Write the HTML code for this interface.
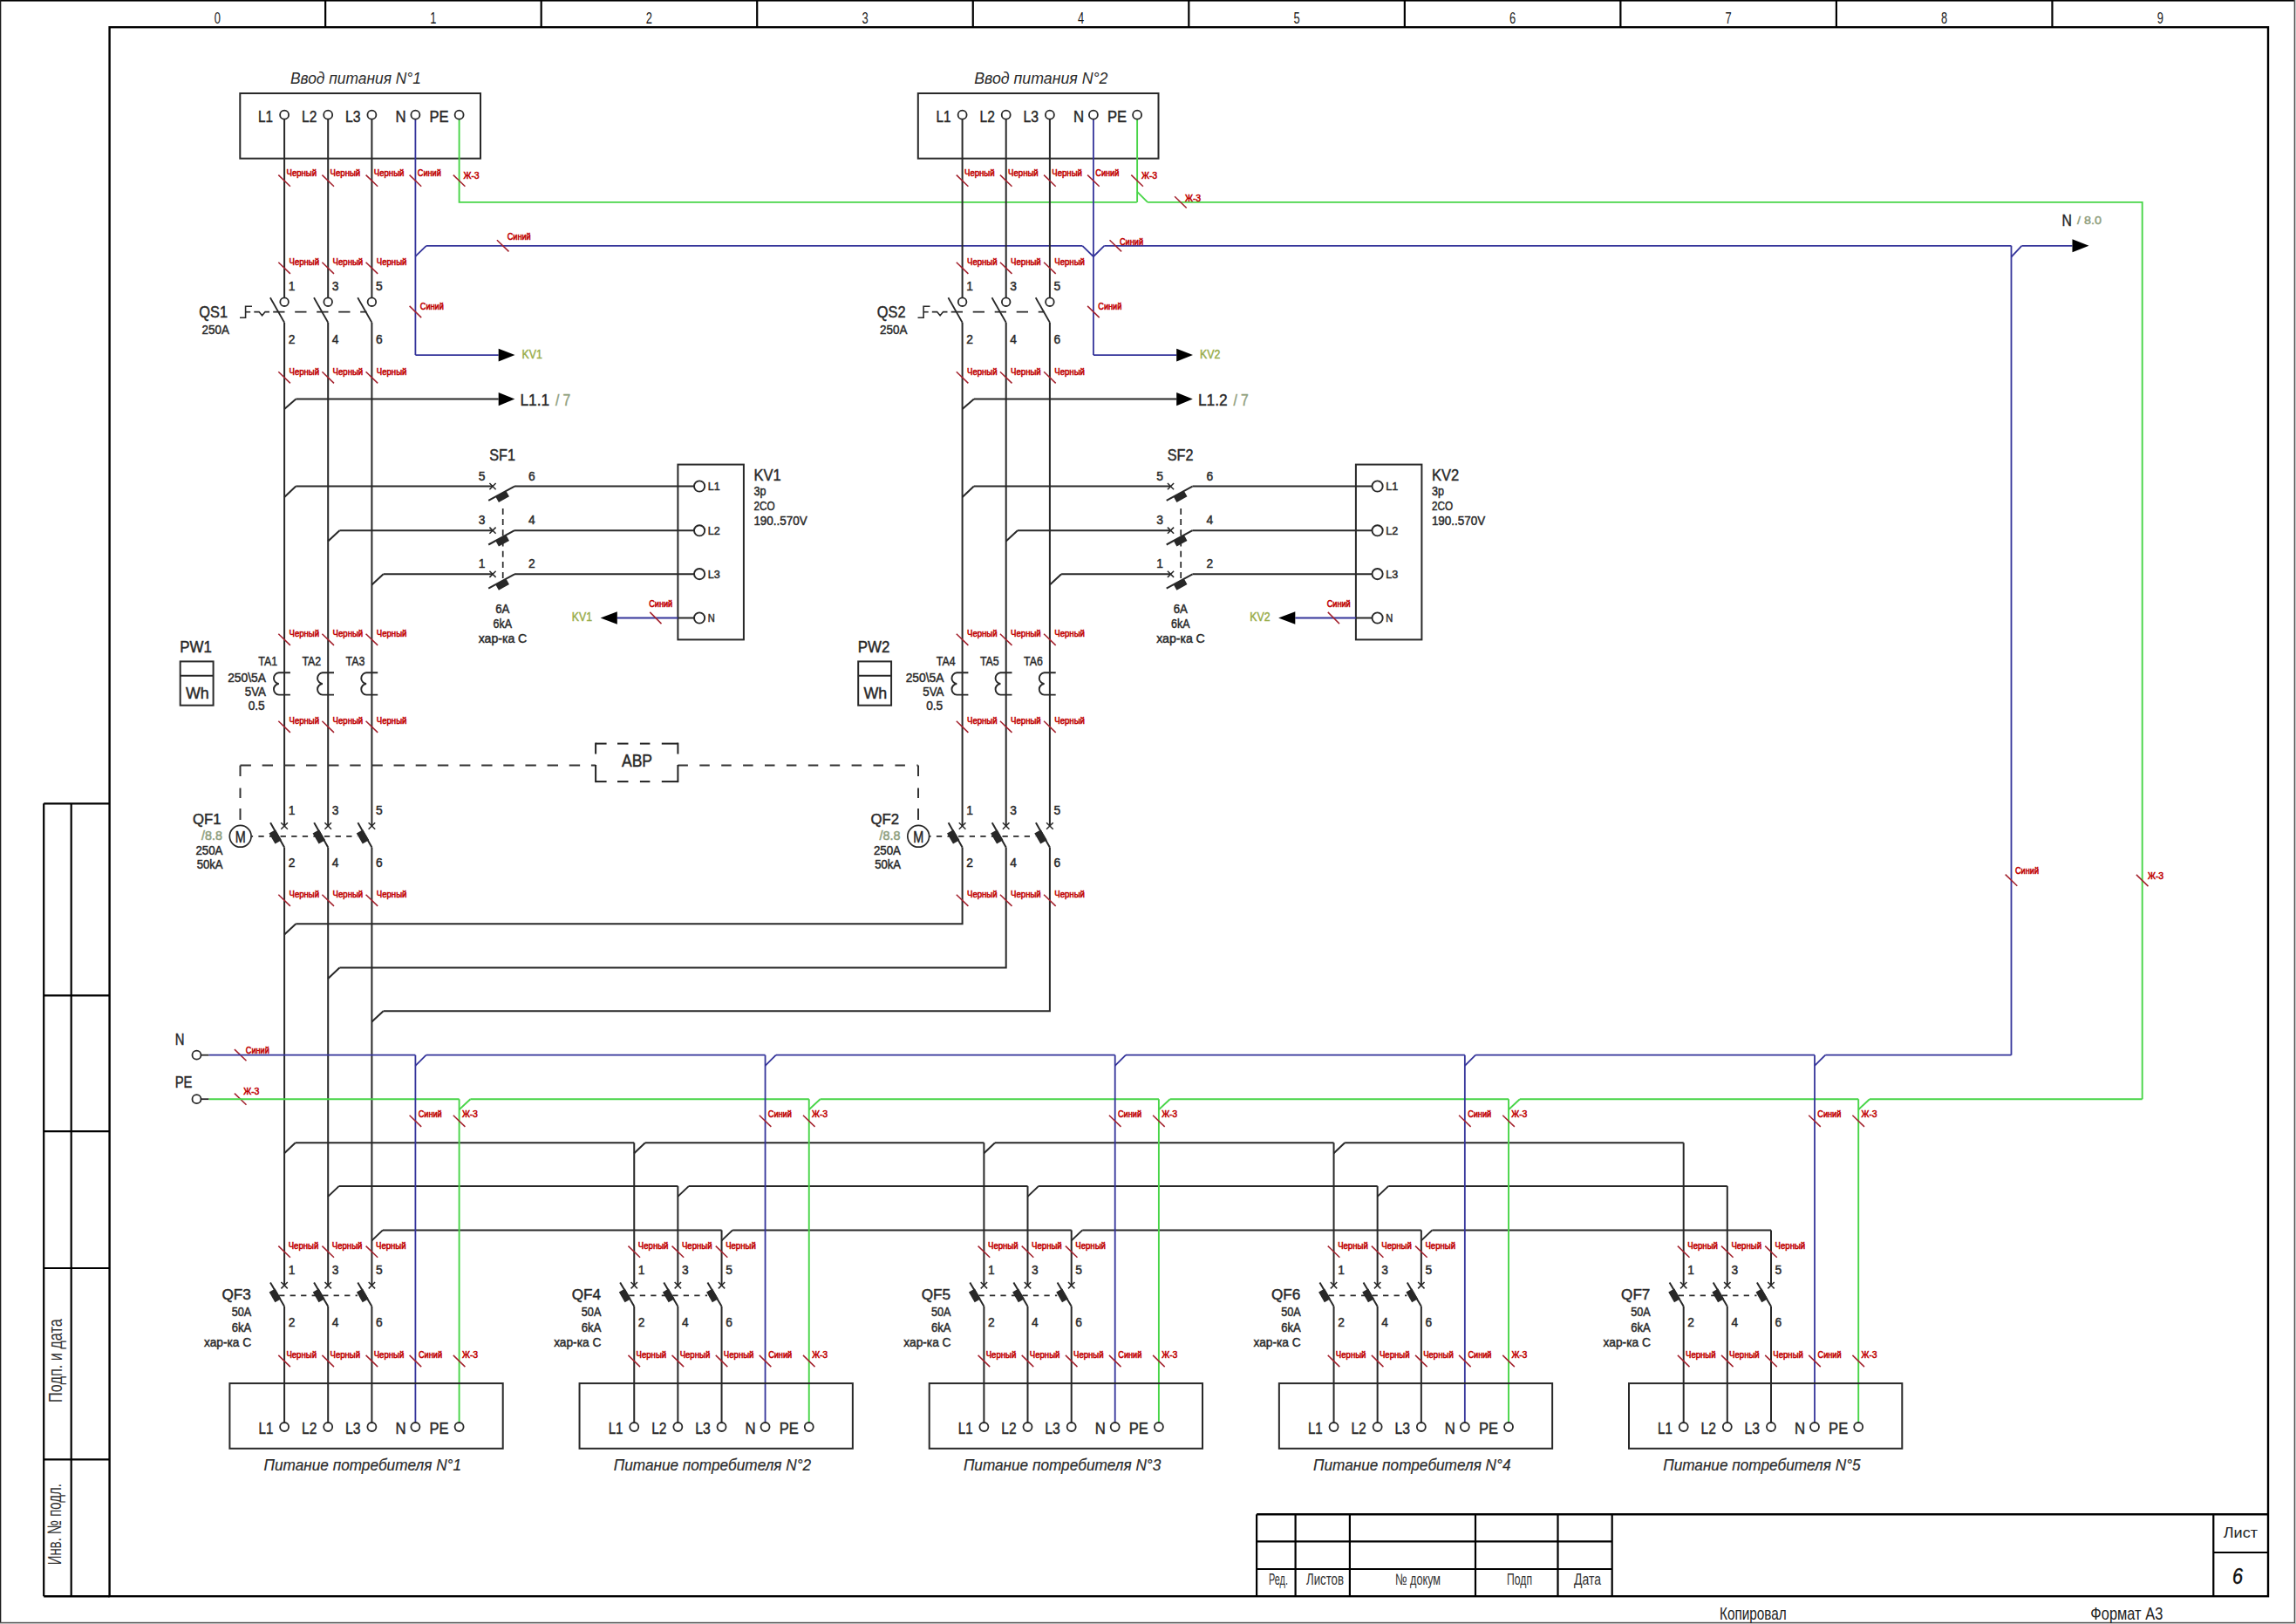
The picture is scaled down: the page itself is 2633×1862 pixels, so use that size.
<!DOCTYPE html>
<html><head><meta charset="utf-8"><title>Схема</title>
<style>
html,body{margin:0;padding:0;background:#fff;}
body{width:2633px;height:1862px;overflow:hidden;}
svg{display:block;font-family:"Liberation Sans", sans-serif;}
text{stroke:currentColor;stroke-width:0.45px;}
</style></head>
<body>
<svg width="2633" height="1862" viewBox="0 0 2633 1862">
<rect x="0" y="0" width="2633" height="1862" fill="#fff"/>
<rect x="2632" y="0" width="1" height="1862" fill="#c8c8c8"/>
<rect x="0" y="1861" width="2633" height="1" fill="#c8c8c8"/>
<rect x="0" y="0" width="2632" height="1.6" fill="#000"/>
<rect x="0" y="0" width="1.3" height="1861" fill="#1a1a1a"/>
<rect x="2630.7" y="0" width="1.3" height="1861" fill="#555"/>
<rect x="0" y="1859.8" width="2632" height="1.3" fill="#555"/>
<rect x="125.6" y="31.2" width="2475.4" height="1799" fill="none" stroke="#000" stroke-width="2.4"/>
<line x1="373.14" y1="0" x2="373.14" y2="31.2" stroke="#000" stroke-width="2.2"/>
<line x1="620.68" y1="0" x2="620.68" y2="31.2" stroke="#000" stroke-width="2.2"/>
<line x1="868.22" y1="0" x2="868.22" y2="31.2" stroke="#000" stroke-width="2.2"/>
<line x1="1115.76" y1="0" x2="1115.76" y2="31.2" stroke="#000" stroke-width="2.2"/>
<line x1="1363.3" y1="0" x2="1363.3" y2="31.2" stroke="#000" stroke-width="2.2"/>
<line x1="1610.84" y1="0" x2="1610.84" y2="31.2" stroke="#000" stroke-width="2.2"/>
<line x1="1858.38" y1="0" x2="1858.38" y2="31.2" stroke="#000" stroke-width="2.2"/>
<line x1="2105.92" y1="0" x2="2105.92" y2="31.2" stroke="#000" stroke-width="2.2"/>
<line x1="2353.46" y1="0" x2="2353.46" y2="31.2" stroke="#000" stroke-width="2.2"/>
<text x="249.37" y="27.2" font-size="19" fill="#1a1a1a" color="#1a1a1a" text-anchor="middle" textLength="7.2" lengthAdjust="spacingAndGlyphs" style="stroke-width:0">0</text>
<text x="496.91" y="27.2" font-size="19" fill="#1a1a1a" color="#1a1a1a" text-anchor="middle" textLength="7.2" lengthAdjust="spacingAndGlyphs" style="stroke-width:0">1</text>
<text x="744.45" y="27.2" font-size="19" fill="#1a1a1a" color="#1a1a1a" text-anchor="middle" textLength="7.2" lengthAdjust="spacingAndGlyphs" style="stroke-width:0">2</text>
<text x="991.99" y="27.2" font-size="19" fill="#1a1a1a" color="#1a1a1a" text-anchor="middle" textLength="7.2" lengthAdjust="spacingAndGlyphs" style="stroke-width:0">3</text>
<text x="1239.53" y="27.2" font-size="19" fill="#1a1a1a" color="#1a1a1a" text-anchor="middle" textLength="7.2" lengthAdjust="spacingAndGlyphs" style="stroke-width:0">4</text>
<text x="1487.07" y="27.2" font-size="19" fill="#1a1a1a" color="#1a1a1a" text-anchor="middle" textLength="7.2" lengthAdjust="spacingAndGlyphs" style="stroke-width:0">5</text>
<text x="1734.61" y="27.2" font-size="19" fill="#1a1a1a" color="#1a1a1a" text-anchor="middle" textLength="7.2" lengthAdjust="spacingAndGlyphs" style="stroke-width:0">6</text>
<text x="1982.15" y="27.2" font-size="19" fill="#1a1a1a" color="#1a1a1a" text-anchor="middle" textLength="7.2" lengthAdjust="spacingAndGlyphs" style="stroke-width:0">7</text>
<text x="2229.69" y="27.2" font-size="19" fill="#1a1a1a" color="#1a1a1a" text-anchor="middle" textLength="7.2" lengthAdjust="spacingAndGlyphs" style="stroke-width:0">8</text>
<text x="2477.23" y="27.2" font-size="19" fill="#1a1a1a" color="#1a1a1a" text-anchor="middle" textLength="7.2" lengthAdjust="spacingAndGlyphs" style="stroke-width:0">9</text>
<line x1="50.2" y1="921.3" x2="125.6" y2="921.3" stroke="#000" stroke-width="2.2"/>
<line x1="50.2" y1="1141.3" x2="125.6" y2="1141.3" stroke="#000" stroke-width="2.2"/>
<line x1="50.2" y1="1297.2" x2="125.6" y2="1297.2" stroke="#000" stroke-width="2.2"/>
<line x1="50.2" y1="1454" x2="125.6" y2="1454" stroke="#000" stroke-width="2.2"/>
<line x1="50.2" y1="1673.3" x2="125.6" y2="1673.3" stroke="#000" stroke-width="2.2"/>
<line x1="50.2" y1="921.3" x2="50.2" y2="1830.2" stroke="#000" stroke-width="2.2"/>
<line x1="81.7" y1="921.3" x2="81.7" y2="1830.2" stroke="#000" stroke-width="2.2"/>
<line x1="50.2" y1="1830.2" x2="125.6" y2="1830.2" stroke="#000" stroke-width="2.4"/>
<text transform="translate(70.5,1560.05) rotate(-90)" font-size="22.5" fill="#333" style="stroke-width:0" text-anchor="middle" textLength="95.7" lengthAdjust="spacingAndGlyphs">Подп. и дата</text>
<text transform="translate(70.2,1747.7) rotate(-90)" font-size="22.5" fill="#333" style="stroke-width:0" text-anchor="middle" textLength="93" lengthAdjust="spacingAndGlyphs">Инв. № подл.</text>
<line x1="1441.1" y1="1736.3" x2="2601" y2="1736.3" stroke="#000" stroke-width="2.4"/>
<line x1="1441.1" y1="1736.3" x2="1441.1" y2="1830.2" stroke="#000" stroke-width="2.2"/>
<line x1="1485.6" y1="1736.3" x2="1485.6" y2="1830.2" stroke="#000" stroke-width="2.2"/>
<line x1="1547.9" y1="1736.3" x2="1547.9" y2="1830.2" stroke="#000" stroke-width="2.2"/>
<line x1="1692" y1="1736.3" x2="1692" y2="1830.2" stroke="#000" stroke-width="2.2"/>
<line x1="1786.5" y1="1736.3" x2="1786.5" y2="1830.2" stroke="#000" stroke-width="2.2"/>
<line x1="1848.7" y1="1736.3" x2="1848.7" y2="1830.2" stroke="#000" stroke-width="2.2"/>
<line x1="2538.3" y1="1736.3" x2="2538.3" y2="1830.2" stroke="#000" stroke-width="2.2"/>
<line x1="1441.1" y1="1767.3" x2="1848.7" y2="1767.3" stroke="#000" stroke-width="2.2"/>
<line x1="1441.1" y1="1799" x2="1848.7" y2="1799" stroke="#000" stroke-width="2.2"/>
<line x1="2538.3" y1="1780" x2="2601" y2="1780" stroke="#000" stroke-width="2.2"/>
<text x="1455" y="1817.4" font-size="18" fill="#333" color="#333" textLength="22" lengthAdjust="spacingAndGlyphs" style="stroke-width:0">Ред.</text>
<text x="1498" y="1817.4" font-size="18" fill="#333" color="#333" textLength="43" lengthAdjust="spacingAndGlyphs" style="stroke-width:0">Листов</text>
<text x="1600" y="1817.4" font-size="18" fill="#333" color="#333" textLength="52" lengthAdjust="spacingAndGlyphs" style="stroke-width:0">№ докум</text>
<text x="1728" y="1817.4" font-size="18" fill="#333" color="#333" textLength="29" lengthAdjust="spacingAndGlyphs" style="stroke-width:0">Подп</text>
<text x="1805" y="1817.4" font-size="18" fill="#333" color="#333" textLength="31" lengthAdjust="spacingAndGlyphs" style="stroke-width:0">Дата</text>
<text x="2549.7" y="1762.7" font-size="17" fill="#222" color="#222" textLength="39.3" lengthAdjust="spacingAndGlyphs" style="stroke-width:0">Лист</text>
<text x="2560" y="1815.5" font-size="25" fill="#111" color="#111" textLength="12" lengthAdjust="spacingAndGlyphs" font-style="italic">6</text>
<text x="1972" y="1856.6" font-size="20.4" fill="#222" color="#222" textLength="76.8" lengthAdjust="spacingAndGlyphs" style="stroke-width:0">Копировал</text>
<text x="2397.3" y="1856.6" font-size="20.4" fill="#222" color="#222" textLength="83" lengthAdjust="spacingAndGlyphs" style="stroke-width:0">Формат А3</text>
<line x1="326.1" y1="369.7" x2="326.1" y2="947" stroke="#282828" stroke-width="2"/>
<line x1="326.1" y1="971.4" x2="326.1" y2="1473.7" stroke="#282828" stroke-width="2"/>
<line x1="376.2" y1="369.7" x2="376.2" y2="947" stroke="#282828" stroke-width="2"/>
<line x1="376.2" y1="971.4" x2="376.2" y2="1473.7" stroke="#282828" stroke-width="2"/>
<line x1="426.4" y1="369.7" x2="426.4" y2="947" stroke="#282828" stroke-width="2"/>
<line x1="426.4" y1="971.4" x2="426.4" y2="1473.7" stroke="#282828" stroke-width="2"/>
<line x1="1103.6" y1="369.7" x2="1103.6" y2="947" stroke="#282828" stroke-width="2"/>
<polyline points="1103.6,971.4 1103.6,1059.2 339.3,1059.2" fill="none" stroke="#282828" stroke-width="2"/>
<line x1="1153.7" y1="369.7" x2="1153.7" y2="947" stroke="#282828" stroke-width="2"/>
<polyline points="1153.7,971.4 1153.7,1109.6 389.4,1109.6" fill="none" stroke="#282828" stroke-width="2"/>
<line x1="1203.9" y1="369.7" x2="1203.9" y2="947" stroke="#282828" stroke-width="2"/>
<polyline points="1203.9,971.4 1203.9,1159.3 439.6,1159.3" fill="none" stroke="#282828" stroke-width="2"/>
<line x1="326.1" y1="1071.5" x2="339.3" y2="1059.2" stroke="#282828" stroke-width="2"/>
<line x1="376.2" y1="1121.9" x2="389.4" y2="1109.6" stroke="#282828" stroke-width="2"/>
<line x1="426.4" y1="1171.6" x2="439.6" y2="1159.3" stroke="#282828" stroke-width="2"/>
<line x1="476.4" y1="293.9" x2="488.8" y2="281.8" stroke="#34349a" stroke-width="1.8"/>
<line x1="488.8" y1="281.8" x2="1241.3" y2="281.8" stroke="#34349a" stroke-width="1.8"/>
<polyline points="1241.3,281.8 1253.9,294.2 1266.3,281.8" fill="none" stroke="#34349a" stroke-width="1.8"/>
<line x1="1266.3" y1="281.8" x2="2306.5" y2="281.8" stroke="#34349a" stroke-width="1.8"/>
<line x1="2306.5" y1="281.8" x2="2306.5" y2="1209.7" stroke="#34349a" stroke-width="1.8"/>
<line x1="2306.5" y1="294.6" x2="2318.4" y2="281.8" stroke="#34349a" stroke-width="1.8"/>
<line x1="2318.4" y1="281.8" x2="2376.5" y2="281.8" stroke="#34349a" stroke-width="1.8"/>
<path d="M2376.5,274.3 L2395.5,281.8 L2376.5,289.3 Z" fill="#000" stroke="none"/>
<text x="2364.6" y="258.8" font-size="18.5" fill="#282828" color="#282828" textLength="11.4" lengthAdjust="spacingAndGlyphs">N</text>
<text x="2382" y="256.5" font-size="13.5" fill="#8e9e7c" color="#8e9e7c" textLength="28" lengthAdjust="spacingAndGlyphs">/ 8.0</text>
<line x1="569.9" y1="275.2" x2="583.5" y2="288.4" stroke="#a3202c" stroke-width="1.5"/>
<text x="581.7" y="274.8" font-size="10.5" fill="#c00000" color="#c00000" textLength="27" lengthAdjust="spacingAndGlyphs" style="stroke-width:0.55px">Синий</text>
<line x1="1272.5" y1="275.2" x2="1286.1" y2="288.4" stroke="#a3202c" stroke-width="1.5"/>
<text x="1284" y="281" font-size="10.5" fill="#c00000" color="#c00000" textLength="27" lengthAdjust="spacingAndGlyphs" style="stroke-width:0.55px">Синий</text>
<line x1="2299.7" y1="1002.6" x2="2313.3" y2="1015.8" stroke="#a3202c" stroke-width="1.5"/>
<text x="2311" y="1001.9" font-size="10.5" fill="#c00000" color="#c00000" textLength="27" lengthAdjust="spacingAndGlyphs" style="stroke-width:0.55px">Синий</text>
<polyline points="1316.1,231.9 2456.7,231.9 2456.7,1260.2" fill="none" stroke="#48d548" stroke-width="1.9"/>
<line x1="1347.1" y1="225.3" x2="1360.7" y2="238.5" stroke="#a3202c" stroke-width="1.5"/>
<text x="1359" y="231" font-size="10.5" fill="#c00000" color="#c00000" textLength="18" lengthAdjust="spacingAndGlyphs" style="stroke-width:0.55px">Ж-З</text>
<line x1="2449.9" y1="1002.9" x2="2463.5" y2="1016.1" stroke="#a3202c" stroke-width="1.5"/>
<text x="2463" y="1008.2" font-size="10.5" fill="#c00000" color="#c00000" textLength="18" lengthAdjust="spacingAndGlyphs" style="stroke-width:0.55px">Ж-З</text>
<text x="332.9" y="95.8" font-size="17.5" fill="#2a2a2a" color="#2a2a2a" textLength="150.1" lengthAdjust="spacingAndGlyphs" font-style="italic" style="stroke-width:0">Ввод питания N°1</text>
<rect x="275.3" y="107" width="275.7" height="74.7" fill="none" stroke="#282828" stroke-width="2"/>
<text x="296" y="139.5" font-size="18.7" fill="#282828" color="#282828" textLength="17" lengthAdjust="spacingAndGlyphs">L1</text>
<text x="346" y="139.5" font-size="18.7" fill="#282828" color="#282828" textLength="17.3" lengthAdjust="spacingAndGlyphs">L2</text>
<text x="396" y="139.5" font-size="18.7" fill="#282828" color="#282828" textLength="17.5" lengthAdjust="spacingAndGlyphs">L3</text>
<text x="453.4" y="139.5" font-size="18.7" fill="#282828" color="#282828" textLength="12.1" lengthAdjust="spacingAndGlyphs">N</text>
<text x="492.5" y="139.5" font-size="18.7" fill="#282828" color="#282828" textLength="22.1" lengthAdjust="spacingAndGlyphs">PE</text>
<line x1="326.1" y1="131.7" x2="326.1" y2="341.4" stroke="#282828" stroke-width="2"/>
<line x1="376.2" y1="131.7" x2="376.2" y2="341.4" stroke="#282828" stroke-width="2"/>
<line x1="426.4" y1="131.7" x2="426.4" y2="341.4" stroke="#282828" stroke-width="2"/>
<line x1="476.4" y1="131.7" x2="476.4" y2="407.1" stroke="#34349a" stroke-width="1.8"/>
<polyline points="476.4,407.1 571.7,407.1" fill="none" stroke="#34349a" stroke-width="1.8"/>
<path d="M571.7,399.8 L590.5,407.1 L571.7,414.4 Z" fill="#000" stroke="none"/>
<text x="598.5" y="410.9" font-size="14.2" fill="#98ac48" color="#98ac48" textLength="23.4" lengthAdjust="spacingAndGlyphs">KV1</text>
<polyline points="526.6,131.7 526.6,231.9 1303.8,231.9" fill="none" stroke="#48d548" stroke-width="1.9"/>
<circle cx="326.1" cy="131.7" r="5" fill="#fff" stroke="#282828" stroke-width="1.8"/>
<circle cx="376.2" cy="131.7" r="5" fill="#fff" stroke="#282828" stroke-width="1.8"/>
<circle cx="426.4" cy="131.7" r="5" fill="#fff" stroke="#282828" stroke-width="1.8"/>
<circle cx="476.4" cy="131.7" r="5" fill="#fff" stroke="#282828" stroke-width="1.8"/>
<circle cx="526.6" cy="131.7" r="5" fill="#fff" stroke="#282828" stroke-width="1.8"/>
<line x1="319.3" y1="200.6" x2="332.9" y2="213.8" stroke="#a3202c" stroke-width="1.5"/>
<text x="328.5" y="202.3" font-size="10.5" fill="#c00000" color="#c00000" textLength="34.6" lengthAdjust="spacingAndGlyphs" style="stroke-width:0.55px">Черный</text>
<line x1="369.4" y1="200.6" x2="383" y2="213.8" stroke="#a3202c" stroke-width="1.5"/>
<text x="378.6" y="202.3" font-size="10.5" fill="#c00000" color="#c00000" textLength="34.6" lengthAdjust="spacingAndGlyphs" style="stroke-width:0.55px">Черный</text>
<line x1="419.6" y1="200.6" x2="433.2" y2="213.8" stroke="#a3202c" stroke-width="1.5"/>
<text x="428.8" y="202.3" font-size="10.5" fill="#c00000" color="#c00000" textLength="34.6" lengthAdjust="spacingAndGlyphs" style="stroke-width:0.55px">Черный</text>
<line x1="469.6" y1="200.6" x2="483.2" y2="213.8" stroke="#a3202c" stroke-width="1.5"/>
<text x="478.8" y="202.3" font-size="10.5" fill="#c00000" color="#c00000" textLength="27" lengthAdjust="spacingAndGlyphs" style="stroke-width:0.55px">Синий</text>
<line x1="519.8" y1="200.6" x2="533.4" y2="213.8" stroke="#a3202c" stroke-width="1.5"/>
<text x="531.6" y="205.2" font-size="10.5" fill="#c00000" color="#c00000" textLength="18" lengthAdjust="spacingAndGlyphs" style="stroke-width:0.55px">Ж-З</text>
<line x1="319.3" y1="300.7" x2="332.9" y2="313.9" stroke="#a3202c" stroke-width="1.5"/>
<text x="331.5" y="304.3" font-size="10.5" fill="#c00000" color="#c00000" textLength="34.6" lengthAdjust="spacingAndGlyphs" style="stroke-width:0.55px">Черный</text>
<line x1="369.4" y1="300.7" x2="383" y2="313.9" stroke="#a3202c" stroke-width="1.5"/>
<text x="381.6" y="304.3" font-size="10.5" fill="#c00000" color="#c00000" textLength="34.6" lengthAdjust="spacingAndGlyphs" style="stroke-width:0.55px">Черный</text>
<line x1="419.6" y1="300.7" x2="433.2" y2="313.9" stroke="#a3202c" stroke-width="1.5"/>
<text x="431.8" y="304.3" font-size="10.5" fill="#c00000" color="#c00000" textLength="34.6" lengthAdjust="spacingAndGlyphs" style="stroke-width:0.55px">Черный</text>
<line x1="469.6" y1="350.9" x2="483.2" y2="364.1" stroke="#a3202c" stroke-width="1.5"/>
<text x="481.8" y="354.5" font-size="10.5" fill="#c00000" color="#c00000" textLength="27" lengthAdjust="spacingAndGlyphs" style="stroke-width:0.55px">Синий</text>
<circle cx="326.1" cy="346.2" r="4.8" fill="#fff" stroke="#282828" stroke-width="1.8"/>
<line x1="309.9" y1="341.2" x2="326.1" y2="369.7" stroke="#282828" stroke-width="1.8"/>
<text x="330.7" y="332.7" font-size="13.8" fill="#282828" color="#282828">1</text>
<text x="330.7" y="393.6" font-size="13.8" fill="#282828" color="#282828">2</text>
<circle cx="376.2" cy="346.2" r="4.8" fill="#fff" stroke="#282828" stroke-width="1.8"/>
<line x1="360" y1="341.2" x2="376.2" y2="369.7" stroke="#282828" stroke-width="1.8"/>
<text x="380.8" y="332.7" font-size="13.8" fill="#282828" color="#282828">3</text>
<text x="380.8" y="393.6" font-size="13.8" fill="#282828" color="#282828">4</text>
<circle cx="426.4" cy="346.2" r="4.8" fill="#fff" stroke="#282828" stroke-width="1.8"/>
<line x1="410.2" y1="341.2" x2="426.4" y2="369.7" stroke="#282828" stroke-width="1.8"/>
<text x="431" y="332.7" font-size="13.8" fill="#282828" color="#282828">5</text>
<text x="431" y="393.6" font-size="13.8" fill="#282828" color="#282828">6</text>
<line x1="313.2" y1="357.7" x2="420.5" y2="357.7" stroke="#282828" stroke-width="1.8" stroke-dasharray="13.3 11.7"/>
<polyline points="275,364.3 281.6,364.3 281.6,351.3 289,351.3" fill="none" stroke="#282828" stroke-width="1.6"/>
<line x1="281.6" y1="357.7" x2="287.2" y2="357.7" stroke="#282828" stroke-width="1.6"/>
<polyline points="291.3,357.6 297.1,357.6 300.6,361.8 304.1,357.6 309,357.6" fill="none" stroke="#282828" stroke-width="1.6"/>
<text x="228.3" y="364.2" font-size="17.5" fill="#282828" color="#282828" textLength="32.7" lengthAdjust="spacingAndGlyphs">QS1</text>
<text x="231.6" y="382.8" font-size="15" fill="#282828" color="#282828" textLength="31.4" lengthAdjust="spacingAndGlyphs">250A</text>
<line x1="319.3" y1="426.2" x2="332.9" y2="439.4" stroke="#a3202c" stroke-width="1.5"/>
<text x="331.5" y="429.8" font-size="10.5" fill="#c00000" color="#c00000" textLength="34.6" lengthAdjust="spacingAndGlyphs" style="stroke-width:0.55px">Черный</text>
<line x1="369.4" y1="426.2" x2="383" y2="439.4" stroke="#a3202c" stroke-width="1.5"/>
<text x="381.6" y="429.8" font-size="10.5" fill="#c00000" color="#c00000" textLength="34.6" lengthAdjust="spacingAndGlyphs" style="stroke-width:0.55px">Черный</text>
<line x1="419.6" y1="426.2" x2="433.2" y2="439.4" stroke="#a3202c" stroke-width="1.5"/>
<text x="431.8" y="429.8" font-size="10.5" fill="#c00000" color="#c00000" textLength="34.6" lengthAdjust="spacingAndGlyphs" style="stroke-width:0.55px">Черный</text>
<line x1="326.1" y1="469" x2="339.4" y2="457.6" stroke="#282828" stroke-width="2"/>
<line x1="339.4" y1="457.6" x2="571.7" y2="457.6" stroke="#282828" stroke-width="2"/>
<path d="M571.7,449.9 L590.3,457.6 L571.7,465.3 Z" fill="#000" stroke="none"/>
<text x="596.4" y="464.9" font-size="19" fill="#282828" color="#282828" textLength="33.8" lengthAdjust="spacingAndGlyphs">L1.1</text>
<text x="636.9" y="464.9" font-size="18" fill="#8e9e7c" color="#8e9e7c" textLength="17.4" lengthAdjust="spacingAndGlyphs">/ 7</text>
<line x1="326.1" y1="569.9" x2="339.3" y2="557.6" stroke="#282828" stroke-width="2"/>
<line x1="339.3" y1="557.6" x2="565" y2="557.6" stroke="#282828" stroke-width="2"/>
<line x1="561.4" y1="554" x2="568.6" y2="561.2" stroke="#282828" stroke-width="1.5"/>
<line x1="561.4" y1="561.2" x2="568.6" y2="554" stroke="#282828" stroke-width="1.5"/>
<line x1="560.2" y1="573.9" x2="590" y2="557.6" stroke="#282828" stroke-width="2"/>
<line x1="590" y1="557.6" x2="796" y2="557.6" stroke="#282828" stroke-width="2"/>
<rect x="569.3" y="565.9" width="13.8" height="7.2" fill="#282828" transform="rotate(-29.2 576.2 569.5)"/>
<text x="548.7" y="550.6" font-size="13.8" fill="#282828" color="#282828">5</text>
<text x="605.9" y="550.6" font-size="13.8" fill="#282828" color="#282828">6</text>
<line x1="376.2" y1="620.5" x2="389.4" y2="608.2" stroke="#282828" stroke-width="2"/>
<line x1="389.4" y1="608.2" x2="565" y2="608.2" stroke="#282828" stroke-width="2"/>
<line x1="561.4" y1="604.6" x2="568.6" y2="611.8" stroke="#282828" stroke-width="1.5"/>
<line x1="561.4" y1="611.8" x2="568.6" y2="604.6" stroke="#282828" stroke-width="1.5"/>
<line x1="560.2" y1="624.5" x2="590" y2="608.2" stroke="#282828" stroke-width="2"/>
<line x1="590" y1="608.2" x2="796" y2="608.2" stroke="#282828" stroke-width="2"/>
<rect x="569.3" y="616.5" width="13.8" height="7.2" fill="#282828" transform="rotate(-29.2 576.2 620.1)"/>
<text x="548.7" y="601.2" font-size="13.8" fill="#282828" color="#282828">3</text>
<text x="605.9" y="601.2" font-size="13.8" fill="#282828" color="#282828">4</text>
<line x1="426.4" y1="670.6" x2="439.6" y2="658.3" stroke="#282828" stroke-width="2"/>
<line x1="439.6" y1="658.3" x2="565" y2="658.3" stroke="#282828" stroke-width="2"/>
<line x1="561.4" y1="654.7" x2="568.6" y2="661.9" stroke="#282828" stroke-width="1.5"/>
<line x1="561.4" y1="661.9" x2="568.6" y2="654.7" stroke="#282828" stroke-width="1.5"/>
<line x1="560.2" y1="674.6" x2="590" y2="658.3" stroke="#282828" stroke-width="2"/>
<line x1="590" y1="658.3" x2="796" y2="658.3" stroke="#282828" stroke-width="2"/>
<rect x="569.3" y="666.6" width="13.8" height="7.2" fill="#282828" transform="rotate(-29.2 576.2 670.2)"/>
<text x="548.7" y="651.3" font-size="13.8" fill="#282828" color="#282828">1</text>
<text x="605.9" y="651.3" font-size="13.8" fill="#282828" color="#282828">2</text>
<line x1="576.7" y1="582.9" x2="576.7" y2="668" stroke="#282828" stroke-width="1.7" stroke-dasharray="7 5.2"/>
<text x="561.2" y="527.8" font-size="18.7" fill="#282828" color="#282828" textLength="29.7" lengthAdjust="spacingAndGlyphs">SF1</text>
<text x="576.3" y="703.1" font-size="13.8" fill="#282828" color="#282828" text-anchor="middle" textLength="16.2" lengthAdjust="spacingAndGlyphs">6A</text>
<text x="576.3" y="719.5" font-size="13.8" fill="#282828" color="#282828" text-anchor="middle" textLength="21.4" lengthAdjust="spacingAndGlyphs">6kA</text>
<text x="576.5" y="737.4" font-size="13.8" fill="#282828" color="#282828" text-anchor="middle" textLength="55.6" lengthAdjust="spacingAndGlyphs">хар-ка С</text>
<rect x="777.4" y="532.6" width="75.5" height="200.8" fill="none" stroke="#282828" stroke-width="2"/>
<line x1="777.4" y1="708.5" x2="796" y2="708.5" stroke="#282828" stroke-width="2"/>
<line x1="707.8" y1="708.5" x2="777.4" y2="708.5" stroke="#34349a" stroke-width="1.8"/>
<path d="M707.8,701.2 L688.6,708.5 L707.8,715.8 Z" fill="#000" stroke="none"/>
<text x="655.7" y="712.4" font-size="13.8" fill="#98ac48" color="#98ac48" textLength="23.3" lengthAdjust="spacingAndGlyphs">KV1</text>
<line x1="745.3" y1="701.9" x2="758.5" y2="715.1" stroke="#a3202c" stroke-width="1.5"/>
<text x="744.2" y="695.6" font-size="10.5" fill="#c00000" color="#c00000" textLength="27" lengthAdjust="spacingAndGlyphs" style="stroke-width:0.55px">Синий</text>
<circle cx="802.1" cy="557.5" r="6.1" fill="#fff" stroke="#282828" stroke-width="1.9"/>
<text x="811.7" y="562.4" font-size="12.5" fill="#282828" color="#282828" textLength="14" lengthAdjust="spacingAndGlyphs">L1</text>
<circle cx="802.1" cy="608.3" r="6.1" fill="#fff" stroke="#282828" stroke-width="1.9"/>
<text x="811.7" y="613.2" font-size="12.5" fill="#282828" color="#282828" textLength="14" lengthAdjust="spacingAndGlyphs">L2</text>
<circle cx="802.1" cy="658.1" r="6.1" fill="#fff" stroke="#282828" stroke-width="1.9"/>
<text x="811.7" y="663" font-size="12.5" fill="#282828" color="#282828" textLength="14" lengthAdjust="spacingAndGlyphs">L3</text>
<circle cx="802.1" cy="708.5" r="6.1" fill="#fff" stroke="#282828" stroke-width="1.9"/>
<text x="811.7" y="713.4" font-size="12.5" fill="#282828" color="#282828" textLength="8" lengthAdjust="spacingAndGlyphs">N</text>
<text x="864.4" y="550.8" font-size="18.7" fill="#282828" color="#282828" textLength="31.2" lengthAdjust="spacingAndGlyphs">KV1</text>
<text x="864.4" y="567.6" font-size="13.8" fill="#282828" color="#282828" textLength="14" lengthAdjust="spacingAndGlyphs">3p</text>
<text x="864.4" y="585.3" font-size="13.8" fill="#282828" color="#282828" textLength="24.2" lengthAdjust="spacingAndGlyphs">2CO</text>
<text x="864.4" y="601.6" font-size="13.8" fill="#282828" color="#282828" textLength="61.3" lengthAdjust="spacingAndGlyphs">190..570V</text>
<line x1="319.3" y1="726.7" x2="332.9" y2="739.9" stroke="#a3202c" stroke-width="1.5"/>
<text x="331.5" y="730.3" font-size="10.5" fill="#c00000" color="#c00000" textLength="34.6" lengthAdjust="spacingAndGlyphs" style="stroke-width:0.55px">Черный</text>
<line x1="369.4" y1="726.7" x2="383" y2="739.9" stroke="#a3202c" stroke-width="1.5"/>
<text x="381.6" y="730.3" font-size="10.5" fill="#c00000" color="#c00000" textLength="34.6" lengthAdjust="spacingAndGlyphs" style="stroke-width:0.55px">Черный</text>
<line x1="419.6" y1="726.7" x2="433.2" y2="739.9" stroke="#a3202c" stroke-width="1.5"/>
<text x="431.8" y="730.3" font-size="10.5" fill="#c00000" color="#c00000" textLength="34.6" lengthAdjust="spacingAndGlyphs" style="stroke-width:0.55px">Черный</text>
<text x="206.3" y="748.3" font-size="17.5" fill="#282828" color="#282828" textLength="36.6" lengthAdjust="spacingAndGlyphs">PW1</text>
<rect x="206.7" y="758.4" width="37.9" height="50.3" fill="none" stroke="#282828" stroke-width="2"/>
<line x1="206.7" y1="774.7" x2="244.6" y2="774.7" stroke="#282828" stroke-width="2"/>
<text x="212.9" y="800.6" font-size="18.5" fill="#282828" color="#282828" textLength="26.8" lengthAdjust="spacingAndGlyphs">Wh</text>
<text x="318.1" y="763.4" font-size="14.5" fill="#282828" color="#282828" text-anchor="end" textLength="21.8" lengthAdjust="spacingAndGlyphs">TA1</text>
<path d="M332.9,771.3 H319.8 A6.4,6.35 0 0 0 319.8,783.95 A6.4,6.35 0 0 0 319.8,796.6 H332.9" fill="none" stroke="#282828" stroke-width="1.9"/>
<text x="368.2" y="763.4" font-size="14.5" fill="#282828" color="#282828" text-anchor="end" textLength="21.8" lengthAdjust="spacingAndGlyphs">TA2</text>
<path d="M383,771.3 H369.9 A6.4,6.35 0 0 0 369.9,783.95 A6.4,6.35 0 0 0 369.9,796.6 H383" fill="none" stroke="#282828" stroke-width="1.9"/>
<text x="418.4" y="763.4" font-size="14.5" fill="#282828" color="#282828" text-anchor="end" textLength="21.8" lengthAdjust="spacingAndGlyphs">TA3</text>
<path d="M433.2,771.3 H420.1 A6.4,6.35 0 0 0 420.1,783.95 A6.4,6.35 0 0 0 420.1,796.6 H433.2" fill="none" stroke="#282828" stroke-width="1.9"/>
<text x="305" y="781.7" font-size="14.2" fill="#282828" color="#282828" text-anchor="end" textLength="43.8" lengthAdjust="spacingAndGlyphs">250\5A</text>
<text x="305" y="798" font-size="14.2" fill="#282828" color="#282828" text-anchor="end" textLength="24.2" lengthAdjust="spacingAndGlyphs">5VA</text>
<text x="303.7" y="814.3" font-size="14.2" fill="#282828" color="#282828" text-anchor="end" textLength="19" lengthAdjust="spacingAndGlyphs">0.5</text>
<line x1="319.3" y1="826.7" x2="332.9" y2="839.9" stroke="#a3202c" stroke-width="1.5"/>
<text x="331.5" y="830.3" font-size="10.5" fill="#c00000" color="#c00000" textLength="34.6" lengthAdjust="spacingAndGlyphs" style="stroke-width:0.55px">Черный</text>
<line x1="369.4" y1="826.7" x2="383" y2="839.9" stroke="#a3202c" stroke-width="1.5"/>
<text x="381.6" y="830.3" font-size="10.5" fill="#c00000" color="#c00000" textLength="34.6" lengthAdjust="spacingAndGlyphs" style="stroke-width:0.55px">Черный</text>
<line x1="419.6" y1="826.7" x2="433.2" y2="839.9" stroke="#a3202c" stroke-width="1.5"/>
<text x="431.8" y="830.3" font-size="10.5" fill="#c00000" color="#c00000" textLength="34.6" lengthAdjust="spacingAndGlyphs" style="stroke-width:0.55px">Черный</text>
<line x1="322.3" y1="943.2" x2="329.9" y2="950.8" stroke="#282828" stroke-width="1.5"/>
<line x1="322.3" y1="950.8" x2="329.9" y2="943.2" stroke="#282828" stroke-width="1.5"/>
<line x1="310.1" y1="943.2" x2="326.1" y2="971.4" stroke="#282828" stroke-width="2"/>
<rect x="308.7" y="955.1" width="14" height="8.6" fill="#282828" transform="rotate(60 315.7 959.4)"/>
<text x="330.7" y="934.1" font-size="13.8" fill="#282828" color="#282828">1</text>
<text x="330.7" y="994.4" font-size="13.8" fill="#282828" color="#282828">2</text>
<line x1="372.4" y1="943.2" x2="380" y2="950.8" stroke="#282828" stroke-width="1.5"/>
<line x1="372.4" y1="950.8" x2="380" y2="943.2" stroke="#282828" stroke-width="1.5"/>
<line x1="360.2" y1="943.2" x2="376.2" y2="971.4" stroke="#282828" stroke-width="2"/>
<rect x="358.8" y="955.1" width="14" height="8.6" fill="#282828" transform="rotate(60 365.8 959.4)"/>
<text x="380.8" y="934.1" font-size="13.8" fill="#282828" color="#282828">3</text>
<text x="380.8" y="994.4" font-size="13.8" fill="#282828" color="#282828">4</text>
<line x1="422.6" y1="943.2" x2="430.2" y2="950.8" stroke="#282828" stroke-width="1.5"/>
<line x1="422.6" y1="950.8" x2="430.2" y2="943.2" stroke="#282828" stroke-width="1.5"/>
<line x1="410.4" y1="943.2" x2="426.4" y2="971.4" stroke="#282828" stroke-width="2"/>
<rect x="409" y="955.1" width="14" height="8.6" fill="#282828" transform="rotate(60 416 959.4)"/>
<text x="431" y="934.1" font-size="13.8" fill="#282828" color="#282828">5</text>
<text x="431" y="994.4" font-size="13.8" fill="#282828" color="#282828">6</text>
<circle cx="275.7" cy="958.8" r="12.4" fill="none" stroke="#282828" stroke-width="1.7"/>
<text x="275.8" y="965.9" font-size="18.5" fill="#222" color="#222" text-anchor="middle" textLength="12" lengthAdjust="spacingAndGlyphs">M</text>
<line x1="288.6" y1="958.9" x2="410" y2="958.9" stroke="#282828" stroke-width="1.8" stroke-dasharray="6.3 6.3" stroke-dashoffset="4.8"/>
<line x1="275.5" y1="877.6" x2="275.5" y2="890" stroke="#333" stroke-width="2"/>
<line x1="275.5" y1="903.5" x2="275.5" y2="915" stroke="#333" stroke-width="2"/>
<line x1="275.5" y1="927" x2="275.5" y2="940" stroke="#333" stroke-width="2"/>
<text x="221" y="945" font-size="16.8" fill="#282828" color="#282828" textLength="32.5" lengthAdjust="spacingAndGlyphs">QF1</text>
<text x="231" y="963.3" font-size="13.8" fill="#8e9e7c" color="#8e9e7c" textLength="23.9" lengthAdjust="spacingAndGlyphs">/8.8</text>
<text x="224.4" y="979.5" font-size="13.8" fill="#282828" color="#282828" textLength="31.1" lengthAdjust="spacingAndGlyphs">250A</text>
<text x="225.7" y="995.8" font-size="13.8" fill="#282828" color="#282828" textLength="29.8" lengthAdjust="spacingAndGlyphs">50kA</text>
<line x1="319.3" y1="1025.7" x2="332.9" y2="1038.9" stroke="#a3202c" stroke-width="1.5"/>
<text x="331.5" y="1029.3" font-size="10.5" fill="#c00000" color="#c00000" textLength="34.6" lengthAdjust="spacingAndGlyphs" style="stroke-width:0.55px">Черный</text>
<line x1="369.4" y1="1025.7" x2="383" y2="1038.9" stroke="#a3202c" stroke-width="1.5"/>
<text x="381.6" y="1029.3" font-size="10.5" fill="#c00000" color="#c00000" textLength="34.6" lengthAdjust="spacingAndGlyphs" style="stroke-width:0.55px">Черный</text>
<line x1="419.6" y1="1025.7" x2="433.2" y2="1038.9" stroke="#a3202c" stroke-width="1.5"/>
<text x="431.8" y="1029.3" font-size="10.5" fill="#c00000" color="#c00000" textLength="34.6" lengthAdjust="spacingAndGlyphs" style="stroke-width:0.55px">Черный</text>
<text x="1117.2" y="95.8" font-size="17.5" fill="#2a2a2a" color="#2a2a2a" textLength="153.3" lengthAdjust="spacingAndGlyphs" font-style="italic" style="stroke-width:0">Ввод питания N°2</text>
<rect x="1052.8" y="107" width="275.7" height="74.7" fill="none" stroke="#282828" stroke-width="2"/>
<text x="1073.5" y="139.5" font-size="18.7" fill="#282828" color="#282828" textLength="17" lengthAdjust="spacingAndGlyphs">L1</text>
<text x="1123.5" y="139.5" font-size="18.7" fill="#282828" color="#282828" textLength="17.3" lengthAdjust="spacingAndGlyphs">L2</text>
<text x="1173.5" y="139.5" font-size="18.7" fill="#282828" color="#282828" textLength="17.5" lengthAdjust="spacingAndGlyphs">L3</text>
<text x="1230.9" y="139.5" font-size="18.7" fill="#282828" color="#282828" textLength="12.1" lengthAdjust="spacingAndGlyphs">N</text>
<text x="1270" y="139.5" font-size="18.7" fill="#282828" color="#282828" textLength="22.1" lengthAdjust="spacingAndGlyphs">PE</text>
<line x1="1103.6" y1="131.7" x2="1103.6" y2="341.4" stroke="#282828" stroke-width="2"/>
<line x1="1153.7" y1="131.7" x2="1153.7" y2="341.4" stroke="#282828" stroke-width="2"/>
<line x1="1203.9" y1="131.7" x2="1203.9" y2="341.4" stroke="#282828" stroke-width="2"/>
<line x1="1253.9" y1="131.7" x2="1253.9" y2="407.1" stroke="#34349a" stroke-width="1.8"/>
<polyline points="1253.9,407.1 1349.2,407.1" fill="none" stroke="#34349a" stroke-width="1.8"/>
<path d="M1349.2,399.8 L1368,407.1 L1349.2,414.4 Z" fill="#000" stroke="none"/>
<text x="1376" y="410.9" font-size="14.2" fill="#98ac48" color="#98ac48" textLength="23.4" lengthAdjust="spacingAndGlyphs">KV2</text>
<line x1="1304.1" y1="131.7" x2="1304.1" y2="231.9" stroke="#48d548" stroke-width="1.9"/>
<line x1="1304.1" y1="219.9" x2="1316.1" y2="231.9" stroke="#48d548" stroke-width="1.9"/>
<circle cx="1103.6" cy="131.7" r="5" fill="#fff" stroke="#282828" stroke-width="1.8"/>
<circle cx="1153.7" cy="131.7" r="5" fill="#fff" stroke="#282828" stroke-width="1.8"/>
<circle cx="1203.9" cy="131.7" r="5" fill="#fff" stroke="#282828" stroke-width="1.8"/>
<circle cx="1253.9" cy="131.7" r="5" fill="#fff" stroke="#282828" stroke-width="1.8"/>
<circle cx="1304.1" cy="131.7" r="5" fill="#fff" stroke="#282828" stroke-width="1.8"/>
<line x1="1096.8" y1="200.6" x2="1110.4" y2="213.8" stroke="#a3202c" stroke-width="1.5"/>
<text x="1106" y="202.3" font-size="10.5" fill="#c00000" color="#c00000" textLength="34.6" lengthAdjust="spacingAndGlyphs" style="stroke-width:0.55px">Черный</text>
<line x1="1146.9" y1="200.6" x2="1160.5" y2="213.8" stroke="#a3202c" stroke-width="1.5"/>
<text x="1156.1" y="202.3" font-size="10.5" fill="#c00000" color="#c00000" textLength="34.6" lengthAdjust="spacingAndGlyphs" style="stroke-width:0.55px">Черный</text>
<line x1="1197.1" y1="200.6" x2="1210.7" y2="213.8" stroke="#a3202c" stroke-width="1.5"/>
<text x="1206.3" y="202.3" font-size="10.5" fill="#c00000" color="#c00000" textLength="34.6" lengthAdjust="spacingAndGlyphs" style="stroke-width:0.55px">Черный</text>
<line x1="1247.1" y1="200.6" x2="1260.7" y2="213.8" stroke="#a3202c" stroke-width="1.5"/>
<text x="1256.3" y="202.3" font-size="10.5" fill="#c00000" color="#c00000" textLength="27" lengthAdjust="spacingAndGlyphs" style="stroke-width:0.55px">Синий</text>
<line x1="1297.3" y1="200.6" x2="1310.9" y2="213.8" stroke="#a3202c" stroke-width="1.5"/>
<text x="1309.1" y="205.2" font-size="10.5" fill="#c00000" color="#c00000" textLength="18" lengthAdjust="spacingAndGlyphs" style="stroke-width:0.55px">Ж-З</text>
<line x1="1096.8" y1="300.7" x2="1110.4" y2="313.9" stroke="#a3202c" stroke-width="1.5"/>
<text x="1109" y="304.3" font-size="10.5" fill="#c00000" color="#c00000" textLength="34.6" lengthAdjust="spacingAndGlyphs" style="stroke-width:0.55px">Черный</text>
<line x1="1146.9" y1="300.7" x2="1160.5" y2="313.9" stroke="#a3202c" stroke-width="1.5"/>
<text x="1159.1" y="304.3" font-size="10.5" fill="#c00000" color="#c00000" textLength="34.6" lengthAdjust="spacingAndGlyphs" style="stroke-width:0.55px">Черный</text>
<line x1="1197.1" y1="300.7" x2="1210.7" y2="313.9" stroke="#a3202c" stroke-width="1.5"/>
<text x="1209.3" y="304.3" font-size="10.5" fill="#c00000" color="#c00000" textLength="34.6" lengthAdjust="spacingAndGlyphs" style="stroke-width:0.55px">Черный</text>
<line x1="1247.1" y1="350.9" x2="1260.7" y2="364.1" stroke="#a3202c" stroke-width="1.5"/>
<text x="1259.3" y="354.5" font-size="10.5" fill="#c00000" color="#c00000" textLength="27" lengthAdjust="spacingAndGlyphs" style="stroke-width:0.55px">Синий</text>
<circle cx="1103.6" cy="346.2" r="4.8" fill="#fff" stroke="#282828" stroke-width="1.8"/>
<line x1="1087.4" y1="341.2" x2="1103.6" y2="369.7" stroke="#282828" stroke-width="1.8"/>
<text x="1108.2" y="332.7" font-size="13.8" fill="#282828" color="#282828">1</text>
<text x="1108.2" y="393.6" font-size="13.8" fill="#282828" color="#282828">2</text>
<circle cx="1153.7" cy="346.2" r="4.8" fill="#fff" stroke="#282828" stroke-width="1.8"/>
<line x1="1137.5" y1="341.2" x2="1153.7" y2="369.7" stroke="#282828" stroke-width="1.8"/>
<text x="1158.3" y="332.7" font-size="13.8" fill="#282828" color="#282828">3</text>
<text x="1158.3" y="393.6" font-size="13.8" fill="#282828" color="#282828">4</text>
<circle cx="1203.9" cy="346.2" r="4.8" fill="#fff" stroke="#282828" stroke-width="1.8"/>
<line x1="1187.7" y1="341.2" x2="1203.9" y2="369.7" stroke="#282828" stroke-width="1.8"/>
<text x="1208.5" y="332.7" font-size="13.8" fill="#282828" color="#282828">5</text>
<text x="1208.5" y="393.6" font-size="13.8" fill="#282828" color="#282828">6</text>
<line x1="1090.7" y1="357.7" x2="1198" y2="357.7" stroke="#282828" stroke-width="1.8" stroke-dasharray="13.3 11.7"/>
<polyline points="1052.5,364.3 1059.1,364.3 1059.1,351.3 1066.5,351.3" fill="none" stroke="#282828" stroke-width="1.6"/>
<line x1="1059.1" y1="357.7" x2="1064.7" y2="357.7" stroke="#282828" stroke-width="1.6"/>
<polyline points="1068.8,357.6 1074.6,357.6 1078.1,361.8 1081.6,357.6 1086.5,357.6" fill="none" stroke="#282828" stroke-width="1.6"/>
<text x="1005.8" y="364.2" font-size="17.5" fill="#282828" color="#282828" textLength="32.7" lengthAdjust="spacingAndGlyphs">QS2</text>
<text x="1009.1" y="382.8" font-size="15" fill="#282828" color="#282828" textLength="31.4" lengthAdjust="spacingAndGlyphs">250A</text>
<line x1="1096.8" y1="426.2" x2="1110.4" y2="439.4" stroke="#a3202c" stroke-width="1.5"/>
<text x="1109" y="429.8" font-size="10.5" fill="#c00000" color="#c00000" textLength="34.6" lengthAdjust="spacingAndGlyphs" style="stroke-width:0.55px">Черный</text>
<line x1="1146.9" y1="426.2" x2="1160.5" y2="439.4" stroke="#a3202c" stroke-width="1.5"/>
<text x="1159.1" y="429.8" font-size="10.5" fill="#c00000" color="#c00000" textLength="34.6" lengthAdjust="spacingAndGlyphs" style="stroke-width:0.55px">Черный</text>
<line x1="1197.1" y1="426.2" x2="1210.7" y2="439.4" stroke="#a3202c" stroke-width="1.5"/>
<text x="1209.3" y="429.8" font-size="10.5" fill="#c00000" color="#c00000" textLength="34.6" lengthAdjust="spacingAndGlyphs" style="stroke-width:0.55px">Черный</text>
<line x1="1103.6" y1="469" x2="1116.9" y2="457.6" stroke="#282828" stroke-width="2"/>
<line x1="1116.9" y1="457.6" x2="1349.2" y2="457.6" stroke="#282828" stroke-width="2"/>
<path d="M1349.2,449.9 L1367.8,457.6 L1349.2,465.3 Z" fill="#000" stroke="none"/>
<text x="1373.9" y="464.9" font-size="19" fill="#282828" color="#282828" textLength="33.8" lengthAdjust="spacingAndGlyphs">L1.2</text>
<text x="1414.4" y="464.9" font-size="18" fill="#8e9e7c" color="#8e9e7c" textLength="17.4" lengthAdjust="spacingAndGlyphs">/ 7</text>
<line x1="1103.6" y1="569.9" x2="1116.8" y2="557.6" stroke="#282828" stroke-width="2"/>
<line x1="1116.8" y1="557.6" x2="1342.5" y2="557.6" stroke="#282828" stroke-width="2"/>
<line x1="1338.9" y1="554" x2="1346.1" y2="561.2" stroke="#282828" stroke-width="1.5"/>
<line x1="1338.9" y1="561.2" x2="1346.1" y2="554" stroke="#282828" stroke-width="1.5"/>
<line x1="1337.7" y1="573.9" x2="1367.5" y2="557.6" stroke="#282828" stroke-width="2"/>
<line x1="1367.5" y1="557.6" x2="1573.5" y2="557.6" stroke="#282828" stroke-width="2"/>
<rect x="1346.8" y="565.9" width="13.8" height="7.2" fill="#282828" transform="rotate(-29.2 1353.7 569.5)"/>
<text x="1326.2" y="550.6" font-size="13.8" fill="#282828" color="#282828">5</text>
<text x="1383.4" y="550.6" font-size="13.8" fill="#282828" color="#282828">6</text>
<line x1="1153.7" y1="620.5" x2="1166.9" y2="608.2" stroke="#282828" stroke-width="2"/>
<line x1="1166.9" y1="608.2" x2="1342.5" y2="608.2" stroke="#282828" stroke-width="2"/>
<line x1="1338.9" y1="604.6" x2="1346.1" y2="611.8" stroke="#282828" stroke-width="1.5"/>
<line x1="1338.9" y1="611.8" x2="1346.1" y2="604.6" stroke="#282828" stroke-width="1.5"/>
<line x1="1337.7" y1="624.5" x2="1367.5" y2="608.2" stroke="#282828" stroke-width="2"/>
<line x1="1367.5" y1="608.2" x2="1573.5" y2="608.2" stroke="#282828" stroke-width="2"/>
<rect x="1346.8" y="616.5" width="13.8" height="7.2" fill="#282828" transform="rotate(-29.2 1353.7 620.1)"/>
<text x="1326.2" y="601.2" font-size="13.8" fill="#282828" color="#282828">3</text>
<text x="1383.4" y="601.2" font-size="13.8" fill="#282828" color="#282828">4</text>
<line x1="1203.9" y1="670.6" x2="1217.1" y2="658.3" stroke="#282828" stroke-width="2"/>
<line x1="1217.1" y1="658.3" x2="1342.5" y2="658.3" stroke="#282828" stroke-width="2"/>
<line x1="1338.9" y1="654.7" x2="1346.1" y2="661.9" stroke="#282828" stroke-width="1.5"/>
<line x1="1338.9" y1="661.9" x2="1346.1" y2="654.7" stroke="#282828" stroke-width="1.5"/>
<line x1="1337.7" y1="674.6" x2="1367.5" y2="658.3" stroke="#282828" stroke-width="2"/>
<line x1="1367.5" y1="658.3" x2="1573.5" y2="658.3" stroke="#282828" stroke-width="2"/>
<rect x="1346.8" y="666.6" width="13.8" height="7.2" fill="#282828" transform="rotate(-29.2 1353.7 670.2)"/>
<text x="1326.2" y="651.3" font-size="13.8" fill="#282828" color="#282828">1</text>
<text x="1383.4" y="651.3" font-size="13.8" fill="#282828" color="#282828">2</text>
<line x1="1354.2" y1="582.9" x2="1354.2" y2="668" stroke="#282828" stroke-width="1.7" stroke-dasharray="7 5.2"/>
<text x="1338.7" y="527.8" font-size="18.7" fill="#282828" color="#282828" textLength="29.7" lengthAdjust="spacingAndGlyphs">SF2</text>
<text x="1353.8" y="703.1" font-size="13.8" fill="#282828" color="#282828" text-anchor="middle" textLength="16.2" lengthAdjust="spacingAndGlyphs">6A</text>
<text x="1353.8" y="719.5" font-size="13.8" fill="#282828" color="#282828" text-anchor="middle" textLength="21.4" lengthAdjust="spacingAndGlyphs">6kA</text>
<text x="1354" y="737.4" font-size="13.8" fill="#282828" color="#282828" text-anchor="middle" textLength="55.6" lengthAdjust="spacingAndGlyphs">хар-ка С</text>
<rect x="1554.9" y="532.6" width="75.5" height="200.8" fill="none" stroke="#282828" stroke-width="2"/>
<line x1="1554.9" y1="708.5" x2="1573.5" y2="708.5" stroke="#282828" stroke-width="2"/>
<line x1="1485.3" y1="708.5" x2="1554.9" y2="708.5" stroke="#34349a" stroke-width="1.8"/>
<path d="M1485.3,701.2 L1466.1,708.5 L1485.3,715.8 Z" fill="#000" stroke="none"/>
<text x="1433.2" y="712.4" font-size="13.8" fill="#98ac48" color="#98ac48" textLength="23.3" lengthAdjust="spacingAndGlyphs">KV2</text>
<line x1="1522.8" y1="701.9" x2="1536" y2="715.1" stroke="#a3202c" stroke-width="1.5"/>
<text x="1521.7" y="695.6" font-size="10.5" fill="#c00000" color="#c00000" textLength="27" lengthAdjust="spacingAndGlyphs" style="stroke-width:0.55px">Синий</text>
<circle cx="1579.6" cy="557.5" r="6.1" fill="#fff" stroke="#282828" stroke-width="1.9"/>
<text x="1589.2" y="562.4" font-size="12.5" fill="#282828" color="#282828" textLength="14" lengthAdjust="spacingAndGlyphs">L1</text>
<circle cx="1579.6" cy="608.3" r="6.1" fill="#fff" stroke="#282828" stroke-width="1.9"/>
<text x="1589.2" y="613.2" font-size="12.5" fill="#282828" color="#282828" textLength="14" lengthAdjust="spacingAndGlyphs">L2</text>
<circle cx="1579.6" cy="658.1" r="6.1" fill="#fff" stroke="#282828" stroke-width="1.9"/>
<text x="1589.2" y="663" font-size="12.5" fill="#282828" color="#282828" textLength="14" lengthAdjust="spacingAndGlyphs">L3</text>
<circle cx="1579.6" cy="708.5" r="6.1" fill="#fff" stroke="#282828" stroke-width="1.9"/>
<text x="1589.2" y="713.4" font-size="12.5" fill="#282828" color="#282828" textLength="8" lengthAdjust="spacingAndGlyphs">N</text>
<text x="1641.9" y="550.8" font-size="18.7" fill="#282828" color="#282828" textLength="31.2" lengthAdjust="spacingAndGlyphs">KV2</text>
<text x="1641.9" y="567.6" font-size="13.8" fill="#282828" color="#282828" textLength="14" lengthAdjust="spacingAndGlyphs">3p</text>
<text x="1641.9" y="585.3" font-size="13.8" fill="#282828" color="#282828" textLength="24.2" lengthAdjust="spacingAndGlyphs">2CO</text>
<text x="1641.9" y="601.6" font-size="13.8" fill="#282828" color="#282828" textLength="61.3" lengthAdjust="spacingAndGlyphs">190..570V</text>
<line x1="1096.8" y1="726.7" x2="1110.4" y2="739.9" stroke="#a3202c" stroke-width="1.5"/>
<text x="1109" y="730.3" font-size="10.5" fill="#c00000" color="#c00000" textLength="34.6" lengthAdjust="spacingAndGlyphs" style="stroke-width:0.55px">Черный</text>
<line x1="1146.9" y1="726.7" x2="1160.5" y2="739.9" stroke="#a3202c" stroke-width="1.5"/>
<text x="1159.1" y="730.3" font-size="10.5" fill="#c00000" color="#c00000" textLength="34.6" lengthAdjust="spacingAndGlyphs" style="stroke-width:0.55px">Черный</text>
<line x1="1197.1" y1="726.7" x2="1210.7" y2="739.9" stroke="#a3202c" stroke-width="1.5"/>
<text x="1209.3" y="730.3" font-size="10.5" fill="#c00000" color="#c00000" textLength="34.6" lengthAdjust="spacingAndGlyphs" style="stroke-width:0.55px">Черный</text>
<text x="983.8" y="748.3" font-size="17.5" fill="#282828" color="#282828" textLength="36.6" lengthAdjust="spacingAndGlyphs">PW2</text>
<rect x="984.2" y="758.4" width="37.9" height="50.3" fill="none" stroke="#282828" stroke-width="2"/>
<line x1="984.2" y1="774.7" x2="1022.1" y2="774.7" stroke="#282828" stroke-width="2"/>
<text x="990.4" y="800.6" font-size="18.5" fill="#282828" color="#282828" textLength="26.8" lengthAdjust="spacingAndGlyphs">Wh</text>
<text x="1095.6" y="763.4" font-size="14.5" fill="#282828" color="#282828" text-anchor="end" textLength="21.8" lengthAdjust="spacingAndGlyphs">TA4</text>
<path d="M1110.4,771.3 H1097.3 A6.4,6.35 0 0 0 1097.3,783.95 A6.4,6.35 0 0 0 1097.3,796.6 H1110.4" fill="none" stroke="#282828" stroke-width="1.9"/>
<text x="1145.7" y="763.4" font-size="14.5" fill="#282828" color="#282828" text-anchor="end" textLength="21.8" lengthAdjust="spacingAndGlyphs">TA5</text>
<path d="M1160.5,771.3 H1147.4 A6.4,6.35 0 0 0 1147.4,783.95 A6.4,6.35 0 0 0 1147.4,796.6 H1160.5" fill="none" stroke="#282828" stroke-width="1.9"/>
<text x="1195.9" y="763.4" font-size="14.5" fill="#282828" color="#282828" text-anchor="end" textLength="21.8" lengthAdjust="spacingAndGlyphs">TA6</text>
<path d="M1210.7,771.3 H1197.6 A6.4,6.35 0 0 0 1197.6,783.95 A6.4,6.35 0 0 0 1197.6,796.6 H1210.7" fill="none" stroke="#282828" stroke-width="1.9"/>
<text x="1082.5" y="781.7" font-size="14.2" fill="#282828" color="#282828" text-anchor="end" textLength="43.8" lengthAdjust="spacingAndGlyphs">250\5A</text>
<text x="1082.5" y="798" font-size="14.2" fill="#282828" color="#282828" text-anchor="end" textLength="24.2" lengthAdjust="spacingAndGlyphs">5VA</text>
<text x="1081.2" y="814.3" font-size="14.2" fill="#282828" color="#282828" text-anchor="end" textLength="19" lengthAdjust="spacingAndGlyphs">0.5</text>
<line x1="1096.8" y1="826.7" x2="1110.4" y2="839.9" stroke="#a3202c" stroke-width="1.5"/>
<text x="1109" y="830.3" font-size="10.5" fill="#c00000" color="#c00000" textLength="34.6" lengthAdjust="spacingAndGlyphs" style="stroke-width:0.55px">Черный</text>
<line x1="1146.9" y1="826.7" x2="1160.5" y2="839.9" stroke="#a3202c" stroke-width="1.5"/>
<text x="1159.1" y="830.3" font-size="10.5" fill="#c00000" color="#c00000" textLength="34.6" lengthAdjust="spacingAndGlyphs" style="stroke-width:0.55px">Черный</text>
<line x1="1197.1" y1="826.7" x2="1210.7" y2="839.9" stroke="#a3202c" stroke-width="1.5"/>
<text x="1209.3" y="830.3" font-size="10.5" fill="#c00000" color="#c00000" textLength="34.6" lengthAdjust="spacingAndGlyphs" style="stroke-width:0.55px">Черный</text>
<line x1="1099.8" y1="943.2" x2="1107.4" y2="950.8" stroke="#282828" stroke-width="1.5"/>
<line x1="1099.8" y1="950.8" x2="1107.4" y2="943.2" stroke="#282828" stroke-width="1.5"/>
<line x1="1087.6" y1="943.2" x2="1103.6" y2="971.4" stroke="#282828" stroke-width="2"/>
<rect x="1086.2" y="955.1" width="14" height="8.6" fill="#282828" transform="rotate(60 1093.2 959.4)"/>
<text x="1108.2" y="934.1" font-size="13.8" fill="#282828" color="#282828">1</text>
<text x="1108.2" y="994.4" font-size="13.8" fill="#282828" color="#282828">2</text>
<line x1="1149.9" y1="943.2" x2="1157.5" y2="950.8" stroke="#282828" stroke-width="1.5"/>
<line x1="1149.9" y1="950.8" x2="1157.5" y2="943.2" stroke="#282828" stroke-width="1.5"/>
<line x1="1137.7" y1="943.2" x2="1153.7" y2="971.4" stroke="#282828" stroke-width="2"/>
<rect x="1136.3" y="955.1" width="14" height="8.6" fill="#282828" transform="rotate(60 1143.3 959.4)"/>
<text x="1158.3" y="934.1" font-size="13.8" fill="#282828" color="#282828">3</text>
<text x="1158.3" y="994.4" font-size="13.8" fill="#282828" color="#282828">4</text>
<line x1="1200.1" y1="943.2" x2="1207.7" y2="950.8" stroke="#282828" stroke-width="1.5"/>
<line x1="1200.1" y1="950.8" x2="1207.7" y2="943.2" stroke="#282828" stroke-width="1.5"/>
<line x1="1187.9" y1="943.2" x2="1203.9" y2="971.4" stroke="#282828" stroke-width="2"/>
<rect x="1186.5" y="955.1" width="14" height="8.6" fill="#282828" transform="rotate(60 1193.5 959.4)"/>
<text x="1208.5" y="934.1" font-size="13.8" fill="#282828" color="#282828">5</text>
<text x="1208.5" y="994.4" font-size="13.8" fill="#282828" color="#282828">6</text>
<circle cx="1053.2" cy="958.8" r="12.4" fill="none" stroke="#282828" stroke-width="1.7"/>
<text x="1053.3" y="965.9" font-size="18.5" fill="#222" color="#222" text-anchor="middle" textLength="12" lengthAdjust="spacingAndGlyphs">M</text>
<line x1="1066.1" y1="958.9" x2="1187.5" y2="958.9" stroke="#282828" stroke-width="1.8" stroke-dasharray="6.3 6.3" stroke-dashoffset="4.8"/>
<line x1="1053" y1="877.6" x2="1053" y2="890" stroke="#333" stroke-width="2"/>
<line x1="1053" y1="903.5" x2="1053" y2="915" stroke="#333" stroke-width="2"/>
<line x1="1053" y1="927" x2="1053" y2="940" stroke="#333" stroke-width="2"/>
<text x="998.5" y="945" font-size="16.8" fill="#282828" color="#282828" textLength="32.5" lengthAdjust="spacingAndGlyphs">QF2</text>
<text x="1008.5" y="963.3" font-size="13.8" fill="#8e9e7c" color="#8e9e7c" textLength="23.9" lengthAdjust="spacingAndGlyphs">/8.8</text>
<text x="1001.9" y="979.5" font-size="13.8" fill="#282828" color="#282828" textLength="31.1" lengthAdjust="spacingAndGlyphs">250A</text>
<text x="1003.2" y="995.8" font-size="13.8" fill="#282828" color="#282828" textLength="29.8" lengthAdjust="spacingAndGlyphs">50kA</text>
<line x1="1096.8" y1="1025.7" x2="1110.4" y2="1038.9" stroke="#a3202c" stroke-width="1.5"/>
<text x="1109" y="1029.3" font-size="10.5" fill="#c00000" color="#c00000" textLength="34.6" lengthAdjust="spacingAndGlyphs" style="stroke-width:0.55px">Черный</text>
<line x1="1146.9" y1="1025.7" x2="1160.5" y2="1038.9" stroke="#a3202c" stroke-width="1.5"/>
<text x="1159.1" y="1029.3" font-size="10.5" fill="#c00000" color="#c00000" textLength="34.6" lengthAdjust="spacingAndGlyphs" style="stroke-width:0.55px">Черный</text>
<line x1="1197.1" y1="1025.7" x2="1210.7" y2="1038.9" stroke="#a3202c" stroke-width="1.5"/>
<text x="1209.3" y="1029.3" font-size="10.5" fill="#c00000" color="#c00000" textLength="34.6" lengthAdjust="spacingAndGlyphs" style="stroke-width:0.55px">Черный</text>
<line x1="275.5" y1="877.6" x2="683.1" y2="877.6" stroke="#333" stroke-width="2" stroke-dasharray="12.4 12.75"/>
<line x1="777.4" y1="877.6" x2="1052.7" y2="877.6" stroke="#333" stroke-width="2" stroke-dasharray="11.5 13.4"/>
<line x1="683.1" y1="852.6" x2="695.6" y2="852.6" stroke="#222" stroke-width="2"/>
<line x1="683.1" y1="896.1" x2="695.6" y2="896.1" stroke="#222" stroke-width="2"/>
<line x1="708" y1="852.6" x2="720.5" y2="852.6" stroke="#222" stroke-width="2"/>
<line x1="708" y1="896.1" x2="720.5" y2="896.1" stroke="#222" stroke-width="2"/>
<line x1="733.9" y1="852.6" x2="745.4" y2="852.6" stroke="#222" stroke-width="2"/>
<line x1="733.9" y1="896.1" x2="745.4" y2="896.1" stroke="#222" stroke-width="2"/>
<line x1="758.8" y1="852.6" x2="777.4" y2="852.6" stroke="#222" stroke-width="2"/>
<line x1="758.8" y1="896.1" x2="777.4" y2="896.1" stroke="#222" stroke-width="2"/>
<line x1="683.1" y1="851.6" x2="683.1" y2="864.5" stroke="#222" stroke-width="2"/>
<line x1="683.1" y1="877" x2="683.1" y2="897.1" stroke="#222" stroke-width="2"/>
<line x1="777.4" y1="851.6" x2="777.4" y2="864.5" stroke="#222" stroke-width="2"/>
<line x1="777.4" y1="877" x2="777.4" y2="897.1" stroke="#222" stroke-width="2"/>
<text x="730.5" y="879.4" font-size="19.5" fill="#282828" color="#282828" text-anchor="middle" textLength="35.1" lengthAdjust="spacingAndGlyphs">АВР</text>
<circle cx="225.5" cy="1209.7" r="5" fill="#fff" stroke="#282828" stroke-width="1.8"/>
<circle cx="225.5" cy="1260.2" r="5" fill="#fff" stroke="#282828" stroke-width="1.8"/>
<line x1="230.5" y1="1209.7" x2="239.6" y2="1209.7" stroke="#282828" stroke-width="1.8"/>
<line x1="230.5" y1="1260.2" x2="239.6" y2="1260.2" stroke="#282828" stroke-width="1.8"/>
<text x="200.7" y="1198.1" font-size="18" fill="#282828" color="#282828" textLength="10.7" lengthAdjust="spacingAndGlyphs">N</text>
<text x="200.7" y="1247" font-size="18" fill="#282828" color="#282828" textLength="19.8" lengthAdjust="spacingAndGlyphs">PE</text>
<line x1="268.9" y1="1203.1" x2="282.5" y2="1216.3" stroke="#a3202c" stroke-width="1.5"/>
<text x="281.8" y="1207.5" font-size="10.5" fill="#c00000" color="#c00000" textLength="27" lengthAdjust="spacingAndGlyphs" style="stroke-width:0.55px">Синий</text>
<line x1="268.9" y1="1253.6" x2="282.5" y2="1266.8" stroke="#a3202c" stroke-width="1.5"/>
<text x="279.3" y="1255.2" font-size="10.5" fill="#c00000" color="#c00000" textLength="18" lengthAdjust="spacingAndGlyphs" style="stroke-width:0.55px">Ж-З</text>
<line x1="239.6" y1="1209.7" x2="476.4" y2="1209.7" stroke="#34349a" stroke-width="1.8"/>
<line x1="476.4" y1="1221.9" x2="488.7" y2="1209.7" stroke="#34349a" stroke-width="1.8"/>
<line x1="488.7" y1="1209.7" x2="877.55" y2="1209.7" stroke="#34349a" stroke-width="1.8"/>
<line x1="877.55" y1="1221.9" x2="889.85" y2="1209.7" stroke="#34349a" stroke-width="1.8"/>
<line x1="889.85" y1="1209.7" x2="1278.7" y2="1209.7" stroke="#34349a" stroke-width="1.8"/>
<line x1="1278.7" y1="1221.9" x2="1291" y2="1209.7" stroke="#34349a" stroke-width="1.8"/>
<line x1="1291" y1="1209.7" x2="1679.85" y2="1209.7" stroke="#34349a" stroke-width="1.8"/>
<line x1="1679.85" y1="1221.9" x2="1692.15" y2="1209.7" stroke="#34349a" stroke-width="1.8"/>
<line x1="1692.15" y1="1209.7" x2="2081" y2="1209.7" stroke="#34349a" stroke-width="1.8"/>
<line x1="2081" y1="1221.9" x2="2093.3" y2="1209.7" stroke="#34349a" stroke-width="1.8"/>
<line x1="2093.3" y1="1209.7" x2="2306.5" y2="1209.7" stroke="#34349a" stroke-width="1.8"/>
<line x1="239.6" y1="1260.2" x2="526.6" y2="1260.2" stroke="#48d548" stroke-width="1.9"/>
<line x1="526.6" y1="1272.2" x2="539.4" y2="1260.2" stroke="#48d548" stroke-width="1.9"/>
<line x1="539.4" y1="1260.2" x2="927.75" y2="1260.2" stroke="#48d548" stroke-width="1.9"/>
<line x1="927.75" y1="1272.2" x2="940.55" y2="1260.2" stroke="#48d548" stroke-width="1.9"/>
<line x1="940.55" y1="1260.2" x2="1328.9" y2="1260.2" stroke="#48d548" stroke-width="1.9"/>
<line x1="1328.9" y1="1272.2" x2="1341.7" y2="1260.2" stroke="#48d548" stroke-width="1.9"/>
<line x1="1341.7" y1="1260.2" x2="1730.05" y2="1260.2" stroke="#48d548" stroke-width="1.9"/>
<line x1="1730.05" y1="1272.2" x2="1742.85" y2="1260.2" stroke="#48d548" stroke-width="1.9"/>
<line x1="1742.85" y1="1260.2" x2="2131.2" y2="1260.2" stroke="#48d548" stroke-width="1.9"/>
<line x1="2131.2" y1="1272.2" x2="2144" y2="1260.2" stroke="#48d548" stroke-width="1.9"/>
<line x1="2144" y1="1260.2" x2="2456.7" y2="1260.2" stroke="#48d548" stroke-width="1.9"/>
<line x1="326.1" y1="1322.3" x2="338.7" y2="1310.3" stroke="#282828" stroke-width="2"/>
<line x1="338.7" y1="1310.3" x2="727.25" y2="1310.3" stroke="#282828" stroke-width="2"/>
<line x1="727.25" y1="1322.3" x2="739.85" y2="1310.3" stroke="#282828" stroke-width="2"/>
<line x1="739.85" y1="1310.3" x2="1128.4" y2="1310.3" stroke="#282828" stroke-width="2"/>
<line x1="1128.4" y1="1322.3" x2="1141" y2="1310.3" stroke="#282828" stroke-width="2"/>
<line x1="1141" y1="1310.3" x2="1529.55" y2="1310.3" stroke="#282828" stroke-width="2"/>
<line x1="1529.55" y1="1322.3" x2="1542.15" y2="1310.3" stroke="#282828" stroke-width="2"/>
<line x1="1542.15" y1="1310.3" x2="1930.7" y2="1310.3" stroke="#282828" stroke-width="2"/>
<line x1="376.2" y1="1371.9" x2="388.8" y2="1359.9" stroke="#282828" stroke-width="2"/>
<line x1="388.8" y1="1359.9" x2="777.35" y2="1359.9" stroke="#282828" stroke-width="2"/>
<line x1="777.35" y1="1371.9" x2="789.95" y2="1359.9" stroke="#282828" stroke-width="2"/>
<line x1="789.95" y1="1359.9" x2="1178.5" y2="1359.9" stroke="#282828" stroke-width="2"/>
<line x1="1178.5" y1="1371.9" x2="1191.1" y2="1359.9" stroke="#282828" stroke-width="2"/>
<line x1="1191.1" y1="1359.9" x2="1579.65" y2="1359.9" stroke="#282828" stroke-width="2"/>
<line x1="1579.65" y1="1371.9" x2="1592.25" y2="1359.9" stroke="#282828" stroke-width="2"/>
<line x1="1592.25" y1="1359.9" x2="1980.8" y2="1359.9" stroke="#282828" stroke-width="2"/>
<line x1="426.4" y1="1422.4" x2="439" y2="1410.4" stroke="#282828" stroke-width="2"/>
<line x1="439" y1="1410.4" x2="827.55" y2="1410.4" stroke="#282828" stroke-width="2"/>
<line x1="827.55" y1="1422.4" x2="840.15" y2="1410.4" stroke="#282828" stroke-width="2"/>
<line x1="840.15" y1="1410.4" x2="1228.7" y2="1410.4" stroke="#282828" stroke-width="2"/>
<line x1="1228.7" y1="1422.4" x2="1241.3" y2="1410.4" stroke="#282828" stroke-width="2"/>
<line x1="1241.3" y1="1410.4" x2="1629.85" y2="1410.4" stroke="#282828" stroke-width="2"/>
<line x1="1629.85" y1="1422.4" x2="1642.45" y2="1410.4" stroke="#282828" stroke-width="2"/>
<line x1="1642.45" y1="1410.4" x2="2031" y2="1410.4" stroke="#282828" stroke-width="2"/>
<line x1="326.1" y1="1497.8" x2="326.1" y2="1631" stroke="#282828" stroke-width="2"/>
<line x1="376.2" y1="1497.8" x2="376.2" y2="1631" stroke="#282828" stroke-width="2"/>
<line x1="426.4" y1="1497.8" x2="426.4" y2="1631" stroke="#282828" stroke-width="2"/>
<line x1="476.4" y1="1209.7" x2="476.4" y2="1631" stroke="#34349a" stroke-width="1.8"/>
<line x1="526.6" y1="1260.2" x2="526.6" y2="1631" stroke="#48d548" stroke-width="1.9"/>
<line x1="469.6" y1="1278.7" x2="483.2" y2="1291.9" stroke="#a3202c" stroke-width="1.5"/>
<text x="479.7" y="1281.1" font-size="10.5" fill="#c00000" color="#c00000" textLength="27" lengthAdjust="spacingAndGlyphs" style="stroke-width:0.55px">Синий</text>
<line x1="519.8" y1="1278.7" x2="533.4" y2="1291.9" stroke="#a3202c" stroke-width="1.5"/>
<text x="529.9" y="1281.1" font-size="10.5" fill="#c00000" color="#c00000" textLength="18" lengthAdjust="spacingAndGlyphs" style="stroke-width:0.55px">Ж-З</text>
<line x1="319.3" y1="1428.6" x2="332.9" y2="1441.8" stroke="#a3202c" stroke-width="1.5"/>
<text x="330.7" y="1432.2" font-size="10.5" fill="#c00000" color="#c00000" textLength="34.6" lengthAdjust="spacingAndGlyphs" style="stroke-width:0.55px">Черный</text>
<line x1="369.4" y1="1428.6" x2="383" y2="1441.8" stroke="#a3202c" stroke-width="1.5"/>
<text x="380.8" y="1432.2" font-size="10.5" fill="#c00000" color="#c00000" textLength="34.6" lengthAdjust="spacingAndGlyphs" style="stroke-width:0.55px">Черный</text>
<line x1="419.6" y1="1428.6" x2="433.2" y2="1441.8" stroke="#a3202c" stroke-width="1.5"/>
<text x="431" y="1432.2" font-size="10.5" fill="#c00000" color="#c00000" textLength="34.6" lengthAdjust="spacingAndGlyphs" style="stroke-width:0.55px">Черный</text>
<line x1="322.4" y1="1470" x2="329.8" y2="1477.4" stroke="#282828" stroke-width="1.5"/>
<line x1="322.4" y1="1477.4" x2="329.8" y2="1470" stroke="#282828" stroke-width="1.5"/>
<line x1="310" y1="1470.4" x2="326.1" y2="1497.8" stroke="#282828" stroke-width="2"/>
<rect x="308.75" y="1481.4" width="13.5" height="8" fill="#282828" transform="rotate(60 315.5 1485.4)"/>
<text x="330.7" y="1461.2" font-size="13.8" fill="#282828" color="#282828">1</text>
<text x="330.7" y="1521" font-size="13.8" fill="#282828" color="#282828">2</text>
<line x1="372.5" y1="1470" x2="379.9" y2="1477.4" stroke="#282828" stroke-width="1.5"/>
<line x1="372.5" y1="1477.4" x2="379.9" y2="1470" stroke="#282828" stroke-width="1.5"/>
<line x1="360.1" y1="1470.4" x2="376.2" y2="1497.8" stroke="#282828" stroke-width="2"/>
<rect x="358.85" y="1481.4" width="13.5" height="8" fill="#282828" transform="rotate(60 365.6 1485.4)"/>
<text x="380.8" y="1461.2" font-size="13.8" fill="#282828" color="#282828">3</text>
<text x="380.8" y="1521" font-size="13.8" fill="#282828" color="#282828">4</text>
<line x1="422.7" y1="1470" x2="430.1" y2="1477.4" stroke="#282828" stroke-width="1.5"/>
<line x1="422.7" y1="1477.4" x2="430.1" y2="1470" stroke="#282828" stroke-width="1.5"/>
<line x1="410.3" y1="1470.4" x2="426.4" y2="1497.8" stroke="#282828" stroke-width="2"/>
<rect x="409.05" y="1481.4" width="13.5" height="8" fill="#282828" transform="rotate(60 415.8 1485.4)"/>
<text x="431" y="1461.2" font-size="13.8" fill="#282828" color="#282828">5</text>
<text x="431" y="1521" font-size="13.8" fill="#282828" color="#282828">6</text>
<line x1="320.1" y1="1485.4" x2="409.9" y2="1485.4" stroke="#282828" stroke-width="1.8" stroke-dasharray="6.3 6.2"/>
<text x="287.8" y="1490.3" font-size="16.8" fill="#282828" color="#282828" text-anchor="end" textLength="33.3" lengthAdjust="spacingAndGlyphs">QF3</text>
<text x="288.2" y="1508.6" font-size="13.8" fill="#282828" color="#282828" text-anchor="end" textLength="22.5" lengthAdjust="spacingAndGlyphs">50A</text>
<text x="288.2" y="1526.9" font-size="13.8" fill="#282828" color="#282828" text-anchor="end" textLength="22.5" lengthAdjust="spacingAndGlyphs">6kA</text>
<text x="288.2" y="1544.3" font-size="13.8" fill="#282828" color="#282828" text-anchor="end" textLength="54.2" lengthAdjust="spacingAndGlyphs">хар-ка С</text>
<line x1="319.3" y1="1553.9" x2="332.9" y2="1567.1" stroke="#a3202c" stroke-width="1.5"/>
<text x="328.4" y="1557.1" font-size="10.5" fill="#c00000" color="#c00000" textLength="34.6" lengthAdjust="spacingAndGlyphs" style="stroke-width:0.55px">Черный</text>
<line x1="369.4" y1="1553.9" x2="383" y2="1567.1" stroke="#a3202c" stroke-width="1.5"/>
<text x="378.5" y="1557.1" font-size="10.5" fill="#c00000" color="#c00000" textLength="34.6" lengthAdjust="spacingAndGlyphs" style="stroke-width:0.55px">Черный</text>
<line x1="419.6" y1="1553.9" x2="433.2" y2="1567.1" stroke="#a3202c" stroke-width="1.5"/>
<text x="428.7" y="1557.1" font-size="10.5" fill="#c00000" color="#c00000" textLength="34.6" lengthAdjust="spacingAndGlyphs" style="stroke-width:0.55px">Черный</text>
<line x1="469.6" y1="1553.9" x2="483.2" y2="1567.1" stroke="#a3202c" stroke-width="1.5"/>
<text x="480" y="1557.1" font-size="10.5" fill="#c00000" color="#c00000" textLength="27" lengthAdjust="spacingAndGlyphs" style="stroke-width:0.55px">Синий</text>
<line x1="519.8" y1="1553.9" x2="533.4" y2="1567.1" stroke="#a3202c" stroke-width="1.5"/>
<text x="530" y="1557.1" font-size="10.5" fill="#c00000" color="#c00000" textLength="18" lengthAdjust="spacingAndGlyphs" style="stroke-width:0.55px">Ж-З</text>
<rect x="263.4" y="1586.1" width="313.3" height="74.7" fill="none" stroke="#282828" stroke-width="2"/>
<circle cx="326.1" cy="1636" r="5" fill="#fff" stroke="#282828" stroke-width="1.8"/>
<text x="296.5" y="1643.6" font-size="18.7" fill="#282828" color="#282828" textLength="16.8" lengthAdjust="spacingAndGlyphs">L1</text>
<circle cx="376.2" cy="1636" r="5" fill="#fff" stroke="#282828" stroke-width="1.8"/>
<text x="346" y="1643.6" font-size="18.7" fill="#282828" color="#282828" textLength="17.3" lengthAdjust="spacingAndGlyphs">L2</text>
<circle cx="426.4" cy="1636" r="5" fill="#fff" stroke="#282828" stroke-width="1.8"/>
<text x="396" y="1643.6" font-size="18.7" fill="#282828" color="#282828" textLength="17.5" lengthAdjust="spacingAndGlyphs">L3</text>
<circle cx="476.4" cy="1636" r="5" fill="#fff" stroke="#282828" stroke-width="1.8"/>
<text x="453.4" y="1643.6" font-size="18.7" fill="#282828" color="#282828" textLength="12.1" lengthAdjust="spacingAndGlyphs">N</text>
<circle cx="526.6" cy="1636" r="5" fill="#fff" stroke="#282828" stroke-width="1.8"/>
<text x="492.5" y="1643.6" font-size="18.7" fill="#282828" color="#282828" textLength="22.1" lengthAdjust="spacingAndGlyphs">PE</text>
<text x="415.8" y="1686.3" font-size="19" fill="#2a2a2a" color="#2a2a2a" text-anchor="middle" textLength="226.4" lengthAdjust="spacingAndGlyphs" font-style="italic" style="stroke-width:0.2px">Питание потребителя N°1</text>
<line x1="727.25" y1="1310.3" x2="727.25" y2="1473.7" stroke="#282828" stroke-width="2"/>
<line x1="727.25" y1="1497.8" x2="727.25" y2="1631" stroke="#282828" stroke-width="2"/>
<line x1="777.35" y1="1359.9" x2="777.35" y2="1473.7" stroke="#282828" stroke-width="2"/>
<line x1="777.35" y1="1497.8" x2="777.35" y2="1631" stroke="#282828" stroke-width="2"/>
<line x1="827.55" y1="1410.4" x2="827.55" y2="1473.7" stroke="#282828" stroke-width="2"/>
<line x1="827.55" y1="1497.8" x2="827.55" y2="1631" stroke="#282828" stroke-width="2"/>
<line x1="877.55" y1="1209.7" x2="877.55" y2="1631" stroke="#34349a" stroke-width="1.8"/>
<line x1="927.75" y1="1260.2" x2="927.75" y2="1631" stroke="#48d548" stroke-width="1.9"/>
<line x1="870.75" y1="1278.7" x2="884.35" y2="1291.9" stroke="#a3202c" stroke-width="1.5"/>
<text x="880.85" y="1281.1" font-size="10.5" fill="#c00000" color="#c00000" textLength="27" lengthAdjust="spacingAndGlyphs" style="stroke-width:0.55px">Синий</text>
<line x1="920.95" y1="1278.7" x2="934.55" y2="1291.9" stroke="#a3202c" stroke-width="1.5"/>
<text x="931.05" y="1281.1" font-size="10.5" fill="#c00000" color="#c00000" textLength="18" lengthAdjust="spacingAndGlyphs" style="stroke-width:0.55px">Ж-З</text>
<line x1="720.45" y1="1428.6" x2="734.05" y2="1441.8" stroke="#a3202c" stroke-width="1.5"/>
<text x="731.85" y="1432.2" font-size="10.5" fill="#c00000" color="#c00000" textLength="34.6" lengthAdjust="spacingAndGlyphs" style="stroke-width:0.55px">Черный</text>
<line x1="770.55" y1="1428.6" x2="784.15" y2="1441.8" stroke="#a3202c" stroke-width="1.5"/>
<text x="781.95" y="1432.2" font-size="10.5" fill="#c00000" color="#c00000" textLength="34.6" lengthAdjust="spacingAndGlyphs" style="stroke-width:0.55px">Черный</text>
<line x1="820.75" y1="1428.6" x2="834.35" y2="1441.8" stroke="#a3202c" stroke-width="1.5"/>
<text x="832.15" y="1432.2" font-size="10.5" fill="#c00000" color="#c00000" textLength="34.6" lengthAdjust="spacingAndGlyphs" style="stroke-width:0.55px">Черный</text>
<line x1="723.55" y1="1470" x2="730.95" y2="1477.4" stroke="#282828" stroke-width="1.5"/>
<line x1="723.55" y1="1477.4" x2="730.95" y2="1470" stroke="#282828" stroke-width="1.5"/>
<line x1="711.15" y1="1470.4" x2="727.25" y2="1497.8" stroke="#282828" stroke-width="2"/>
<rect x="709.9" y="1481.4" width="13.5" height="8" fill="#282828" transform="rotate(60 716.65 1485.4)"/>
<text x="731.85" y="1461.2" font-size="13.8" fill="#282828" color="#282828">1</text>
<text x="731.85" y="1521" font-size="13.8" fill="#282828" color="#282828">2</text>
<line x1="773.65" y1="1470" x2="781.05" y2="1477.4" stroke="#282828" stroke-width="1.5"/>
<line x1="773.65" y1="1477.4" x2="781.05" y2="1470" stroke="#282828" stroke-width="1.5"/>
<line x1="761.25" y1="1470.4" x2="777.35" y2="1497.8" stroke="#282828" stroke-width="2"/>
<rect x="760" y="1481.4" width="13.5" height="8" fill="#282828" transform="rotate(60 766.75 1485.4)"/>
<text x="781.95" y="1461.2" font-size="13.8" fill="#282828" color="#282828">3</text>
<text x="781.95" y="1521" font-size="13.8" fill="#282828" color="#282828">4</text>
<line x1="823.85" y1="1470" x2="831.25" y2="1477.4" stroke="#282828" stroke-width="1.5"/>
<line x1="823.85" y1="1477.4" x2="831.25" y2="1470" stroke="#282828" stroke-width="1.5"/>
<line x1="811.45" y1="1470.4" x2="827.55" y2="1497.8" stroke="#282828" stroke-width="2"/>
<rect x="810.2" y="1481.4" width="13.5" height="8" fill="#282828" transform="rotate(60 816.95 1485.4)"/>
<text x="832.15" y="1461.2" font-size="13.8" fill="#282828" color="#282828">5</text>
<text x="832.15" y="1521" font-size="13.8" fill="#282828" color="#282828">6</text>
<line x1="721.25" y1="1485.4" x2="811.05" y2="1485.4" stroke="#282828" stroke-width="1.8" stroke-dasharray="6.3 6.2"/>
<text x="688.95" y="1490.3" font-size="16.8" fill="#282828" color="#282828" text-anchor="end" textLength="33.3" lengthAdjust="spacingAndGlyphs">QF4</text>
<text x="689.35" y="1508.6" font-size="13.8" fill="#282828" color="#282828" text-anchor="end" textLength="22.5" lengthAdjust="spacingAndGlyphs">50A</text>
<text x="689.35" y="1526.9" font-size="13.8" fill="#282828" color="#282828" text-anchor="end" textLength="22.5" lengthAdjust="spacingAndGlyphs">6kA</text>
<text x="689.35" y="1544.3" font-size="13.8" fill="#282828" color="#282828" text-anchor="end" textLength="54.2" lengthAdjust="spacingAndGlyphs">хар-ка С</text>
<line x1="720.45" y1="1553.9" x2="734.05" y2="1567.1" stroke="#a3202c" stroke-width="1.5"/>
<text x="729.55" y="1557.1" font-size="10.5" fill="#c00000" color="#c00000" textLength="34.6" lengthAdjust="spacingAndGlyphs" style="stroke-width:0.55px">Черный</text>
<line x1="770.55" y1="1553.9" x2="784.15" y2="1567.1" stroke="#a3202c" stroke-width="1.5"/>
<text x="779.65" y="1557.1" font-size="10.5" fill="#c00000" color="#c00000" textLength="34.6" lengthAdjust="spacingAndGlyphs" style="stroke-width:0.55px">Черный</text>
<line x1="820.75" y1="1553.9" x2="834.35" y2="1567.1" stroke="#a3202c" stroke-width="1.5"/>
<text x="829.85" y="1557.1" font-size="10.5" fill="#c00000" color="#c00000" textLength="34.6" lengthAdjust="spacingAndGlyphs" style="stroke-width:0.55px">Черный</text>
<line x1="870.75" y1="1553.9" x2="884.35" y2="1567.1" stroke="#a3202c" stroke-width="1.5"/>
<text x="881.15" y="1557.1" font-size="10.5" fill="#c00000" color="#c00000" textLength="27" lengthAdjust="spacingAndGlyphs" style="stroke-width:0.55px">Синий</text>
<line x1="920.95" y1="1553.9" x2="934.55" y2="1567.1" stroke="#a3202c" stroke-width="1.5"/>
<text x="931.15" y="1557.1" font-size="10.5" fill="#c00000" color="#c00000" textLength="18" lengthAdjust="spacingAndGlyphs" style="stroke-width:0.55px">Ж-З</text>
<rect x="664.55" y="1586.1" width="313.3" height="74.7" fill="none" stroke="#282828" stroke-width="2"/>
<circle cx="727.25" cy="1636" r="5" fill="#fff" stroke="#282828" stroke-width="1.8"/>
<text x="697.65" y="1643.6" font-size="18.7" fill="#282828" color="#282828" textLength="16.8" lengthAdjust="spacingAndGlyphs">L1</text>
<circle cx="777.35" cy="1636" r="5" fill="#fff" stroke="#282828" stroke-width="1.8"/>
<text x="747.15" y="1643.6" font-size="18.7" fill="#282828" color="#282828" textLength="17.3" lengthAdjust="spacingAndGlyphs">L2</text>
<circle cx="827.55" cy="1636" r="5" fill="#fff" stroke="#282828" stroke-width="1.8"/>
<text x="797.15" y="1643.6" font-size="18.7" fill="#282828" color="#282828" textLength="17.5" lengthAdjust="spacingAndGlyphs">L3</text>
<circle cx="877.55" cy="1636" r="5" fill="#fff" stroke="#282828" stroke-width="1.8"/>
<text x="854.55" y="1643.6" font-size="18.7" fill="#282828" color="#282828" textLength="12.1" lengthAdjust="spacingAndGlyphs">N</text>
<circle cx="927.75" cy="1636" r="5" fill="#fff" stroke="#282828" stroke-width="1.8"/>
<text x="893.65" y="1643.6" font-size="18.7" fill="#282828" color="#282828" textLength="22.1" lengthAdjust="spacingAndGlyphs">PE</text>
<text x="816.95" y="1686.3" font-size="19" fill="#2a2a2a" color="#2a2a2a" text-anchor="middle" textLength="226.4" lengthAdjust="spacingAndGlyphs" font-style="italic" style="stroke-width:0.2px">Питание потребителя N°2</text>
<line x1="1128.4" y1="1310.3" x2="1128.4" y2="1473.7" stroke="#282828" stroke-width="2"/>
<line x1="1128.4" y1="1497.8" x2="1128.4" y2="1631" stroke="#282828" stroke-width="2"/>
<line x1="1178.5" y1="1359.9" x2="1178.5" y2="1473.7" stroke="#282828" stroke-width="2"/>
<line x1="1178.5" y1="1497.8" x2="1178.5" y2="1631" stroke="#282828" stroke-width="2"/>
<line x1="1228.7" y1="1410.4" x2="1228.7" y2="1473.7" stroke="#282828" stroke-width="2"/>
<line x1="1228.7" y1="1497.8" x2="1228.7" y2="1631" stroke="#282828" stroke-width="2"/>
<line x1="1278.7" y1="1209.7" x2="1278.7" y2="1631" stroke="#34349a" stroke-width="1.8"/>
<line x1="1328.9" y1="1260.2" x2="1328.9" y2="1631" stroke="#48d548" stroke-width="1.9"/>
<line x1="1271.9" y1="1278.7" x2="1285.5" y2="1291.9" stroke="#a3202c" stroke-width="1.5"/>
<text x="1282" y="1281.1" font-size="10.5" fill="#c00000" color="#c00000" textLength="27" lengthAdjust="spacingAndGlyphs" style="stroke-width:0.55px">Синий</text>
<line x1="1322.1" y1="1278.7" x2="1335.7" y2="1291.9" stroke="#a3202c" stroke-width="1.5"/>
<text x="1332.2" y="1281.1" font-size="10.5" fill="#c00000" color="#c00000" textLength="18" lengthAdjust="spacingAndGlyphs" style="stroke-width:0.55px">Ж-З</text>
<line x1="1121.6" y1="1428.6" x2="1135.2" y2="1441.8" stroke="#a3202c" stroke-width="1.5"/>
<text x="1133" y="1432.2" font-size="10.5" fill="#c00000" color="#c00000" textLength="34.6" lengthAdjust="spacingAndGlyphs" style="stroke-width:0.55px">Черный</text>
<line x1="1171.7" y1="1428.6" x2="1185.3" y2="1441.8" stroke="#a3202c" stroke-width="1.5"/>
<text x="1183.1" y="1432.2" font-size="10.5" fill="#c00000" color="#c00000" textLength="34.6" lengthAdjust="spacingAndGlyphs" style="stroke-width:0.55px">Черный</text>
<line x1="1221.9" y1="1428.6" x2="1235.5" y2="1441.8" stroke="#a3202c" stroke-width="1.5"/>
<text x="1233.3" y="1432.2" font-size="10.5" fill="#c00000" color="#c00000" textLength="34.6" lengthAdjust="spacingAndGlyphs" style="stroke-width:0.55px">Черный</text>
<line x1="1124.7" y1="1470" x2="1132.1" y2="1477.4" stroke="#282828" stroke-width="1.5"/>
<line x1="1124.7" y1="1477.4" x2="1132.1" y2="1470" stroke="#282828" stroke-width="1.5"/>
<line x1="1112.3" y1="1470.4" x2="1128.4" y2="1497.8" stroke="#282828" stroke-width="2"/>
<rect x="1111.05" y="1481.4" width="13.5" height="8" fill="#282828" transform="rotate(60 1117.8 1485.4)"/>
<text x="1133" y="1461.2" font-size="13.8" fill="#282828" color="#282828">1</text>
<text x="1133" y="1521" font-size="13.8" fill="#282828" color="#282828">2</text>
<line x1="1174.8" y1="1470" x2="1182.2" y2="1477.4" stroke="#282828" stroke-width="1.5"/>
<line x1="1174.8" y1="1477.4" x2="1182.2" y2="1470" stroke="#282828" stroke-width="1.5"/>
<line x1="1162.4" y1="1470.4" x2="1178.5" y2="1497.8" stroke="#282828" stroke-width="2"/>
<rect x="1161.15" y="1481.4" width="13.5" height="8" fill="#282828" transform="rotate(60 1167.9 1485.4)"/>
<text x="1183.1" y="1461.2" font-size="13.8" fill="#282828" color="#282828">3</text>
<text x="1183.1" y="1521" font-size="13.8" fill="#282828" color="#282828">4</text>
<line x1="1225" y1="1470" x2="1232.4" y2="1477.4" stroke="#282828" stroke-width="1.5"/>
<line x1="1225" y1="1477.4" x2="1232.4" y2="1470" stroke="#282828" stroke-width="1.5"/>
<line x1="1212.6" y1="1470.4" x2="1228.7" y2="1497.8" stroke="#282828" stroke-width="2"/>
<rect x="1211.35" y="1481.4" width="13.5" height="8" fill="#282828" transform="rotate(60 1218.1 1485.4)"/>
<text x="1233.3" y="1461.2" font-size="13.8" fill="#282828" color="#282828">5</text>
<text x="1233.3" y="1521" font-size="13.8" fill="#282828" color="#282828">6</text>
<line x1="1122.4" y1="1485.4" x2="1212.2" y2="1485.4" stroke="#282828" stroke-width="1.8" stroke-dasharray="6.3 6.2"/>
<text x="1090.1" y="1490.3" font-size="16.8" fill="#282828" color="#282828" text-anchor="end" textLength="33.3" lengthAdjust="spacingAndGlyphs">QF5</text>
<text x="1090.5" y="1508.6" font-size="13.8" fill="#282828" color="#282828" text-anchor="end" textLength="22.5" lengthAdjust="spacingAndGlyphs">50A</text>
<text x="1090.5" y="1526.9" font-size="13.8" fill="#282828" color="#282828" text-anchor="end" textLength="22.5" lengthAdjust="spacingAndGlyphs">6kA</text>
<text x="1090.5" y="1544.3" font-size="13.8" fill="#282828" color="#282828" text-anchor="end" textLength="54.2" lengthAdjust="spacingAndGlyphs">хар-ка С</text>
<line x1="1121.6" y1="1553.9" x2="1135.2" y2="1567.1" stroke="#a3202c" stroke-width="1.5"/>
<text x="1130.7" y="1557.1" font-size="10.5" fill="#c00000" color="#c00000" textLength="34.6" lengthAdjust="spacingAndGlyphs" style="stroke-width:0.55px">Черный</text>
<line x1="1171.7" y1="1553.9" x2="1185.3" y2="1567.1" stroke="#a3202c" stroke-width="1.5"/>
<text x="1180.8" y="1557.1" font-size="10.5" fill="#c00000" color="#c00000" textLength="34.6" lengthAdjust="spacingAndGlyphs" style="stroke-width:0.55px">Черный</text>
<line x1="1221.9" y1="1553.9" x2="1235.5" y2="1567.1" stroke="#a3202c" stroke-width="1.5"/>
<text x="1231" y="1557.1" font-size="10.5" fill="#c00000" color="#c00000" textLength="34.6" lengthAdjust="spacingAndGlyphs" style="stroke-width:0.55px">Черный</text>
<line x1="1271.9" y1="1553.9" x2="1285.5" y2="1567.1" stroke="#a3202c" stroke-width="1.5"/>
<text x="1282.3" y="1557.1" font-size="10.5" fill="#c00000" color="#c00000" textLength="27" lengthAdjust="spacingAndGlyphs" style="stroke-width:0.55px">Синий</text>
<line x1="1322.1" y1="1553.9" x2="1335.7" y2="1567.1" stroke="#a3202c" stroke-width="1.5"/>
<text x="1332.3" y="1557.1" font-size="10.5" fill="#c00000" color="#c00000" textLength="18" lengthAdjust="spacingAndGlyphs" style="stroke-width:0.55px">Ж-З</text>
<rect x="1065.7" y="1586.1" width="313.3" height="74.7" fill="none" stroke="#282828" stroke-width="2"/>
<circle cx="1128.4" cy="1636" r="5" fill="#fff" stroke="#282828" stroke-width="1.8"/>
<text x="1098.8" y="1643.6" font-size="18.7" fill="#282828" color="#282828" textLength="16.8" lengthAdjust="spacingAndGlyphs">L1</text>
<circle cx="1178.5" cy="1636" r="5" fill="#fff" stroke="#282828" stroke-width="1.8"/>
<text x="1148.3" y="1643.6" font-size="18.7" fill="#282828" color="#282828" textLength="17.3" lengthAdjust="spacingAndGlyphs">L2</text>
<circle cx="1228.7" cy="1636" r="5" fill="#fff" stroke="#282828" stroke-width="1.8"/>
<text x="1198.3" y="1643.6" font-size="18.7" fill="#282828" color="#282828" textLength="17.5" lengthAdjust="spacingAndGlyphs">L3</text>
<circle cx="1278.7" cy="1636" r="5" fill="#fff" stroke="#282828" stroke-width="1.8"/>
<text x="1255.7" y="1643.6" font-size="18.7" fill="#282828" color="#282828" textLength="12.1" lengthAdjust="spacingAndGlyphs">N</text>
<circle cx="1328.9" cy="1636" r="5" fill="#fff" stroke="#282828" stroke-width="1.8"/>
<text x="1294.8" y="1643.6" font-size="18.7" fill="#282828" color="#282828" textLength="22.1" lengthAdjust="spacingAndGlyphs">PE</text>
<text x="1218.1" y="1686.3" font-size="19" fill="#2a2a2a" color="#2a2a2a" text-anchor="middle" textLength="226.4" lengthAdjust="spacingAndGlyphs" font-style="italic" style="stroke-width:0.2px">Питание потребителя N°3</text>
<line x1="1529.55" y1="1310.3" x2="1529.55" y2="1473.7" stroke="#282828" stroke-width="2"/>
<line x1="1529.55" y1="1497.8" x2="1529.55" y2="1631" stroke="#282828" stroke-width="2"/>
<line x1="1579.65" y1="1359.9" x2="1579.65" y2="1473.7" stroke="#282828" stroke-width="2"/>
<line x1="1579.65" y1="1497.8" x2="1579.65" y2="1631" stroke="#282828" stroke-width="2"/>
<line x1="1629.85" y1="1410.4" x2="1629.85" y2="1473.7" stroke="#282828" stroke-width="2"/>
<line x1="1629.85" y1="1497.8" x2="1629.85" y2="1631" stroke="#282828" stroke-width="2"/>
<line x1="1679.85" y1="1209.7" x2="1679.85" y2="1631" stroke="#34349a" stroke-width="1.8"/>
<line x1="1730.05" y1="1260.2" x2="1730.05" y2="1631" stroke="#48d548" stroke-width="1.9"/>
<line x1="1673.05" y1="1278.7" x2="1686.65" y2="1291.9" stroke="#a3202c" stroke-width="1.5"/>
<text x="1683.15" y="1281.1" font-size="10.5" fill="#c00000" color="#c00000" textLength="27" lengthAdjust="spacingAndGlyphs" style="stroke-width:0.55px">Синий</text>
<line x1="1723.25" y1="1278.7" x2="1736.85" y2="1291.9" stroke="#a3202c" stroke-width="1.5"/>
<text x="1733.35" y="1281.1" font-size="10.5" fill="#c00000" color="#c00000" textLength="18" lengthAdjust="spacingAndGlyphs" style="stroke-width:0.55px">Ж-З</text>
<line x1="1522.75" y1="1428.6" x2="1536.35" y2="1441.8" stroke="#a3202c" stroke-width="1.5"/>
<text x="1534.15" y="1432.2" font-size="10.5" fill="#c00000" color="#c00000" textLength="34.6" lengthAdjust="spacingAndGlyphs" style="stroke-width:0.55px">Черный</text>
<line x1="1572.85" y1="1428.6" x2="1586.45" y2="1441.8" stroke="#a3202c" stroke-width="1.5"/>
<text x="1584.25" y="1432.2" font-size="10.5" fill="#c00000" color="#c00000" textLength="34.6" lengthAdjust="spacingAndGlyphs" style="stroke-width:0.55px">Черный</text>
<line x1="1623.05" y1="1428.6" x2="1636.65" y2="1441.8" stroke="#a3202c" stroke-width="1.5"/>
<text x="1634.45" y="1432.2" font-size="10.5" fill="#c00000" color="#c00000" textLength="34.6" lengthAdjust="spacingAndGlyphs" style="stroke-width:0.55px">Черный</text>
<line x1="1525.85" y1="1470" x2="1533.25" y2="1477.4" stroke="#282828" stroke-width="1.5"/>
<line x1="1525.85" y1="1477.4" x2="1533.25" y2="1470" stroke="#282828" stroke-width="1.5"/>
<line x1="1513.45" y1="1470.4" x2="1529.55" y2="1497.8" stroke="#282828" stroke-width="2"/>
<rect x="1512.2" y="1481.4" width="13.5" height="8" fill="#282828" transform="rotate(60 1518.95 1485.4)"/>
<text x="1534.15" y="1461.2" font-size="13.8" fill="#282828" color="#282828">1</text>
<text x="1534.15" y="1521" font-size="13.8" fill="#282828" color="#282828">2</text>
<line x1="1575.95" y1="1470" x2="1583.35" y2="1477.4" stroke="#282828" stroke-width="1.5"/>
<line x1="1575.95" y1="1477.4" x2="1583.35" y2="1470" stroke="#282828" stroke-width="1.5"/>
<line x1="1563.55" y1="1470.4" x2="1579.65" y2="1497.8" stroke="#282828" stroke-width="2"/>
<rect x="1562.3" y="1481.4" width="13.5" height="8" fill="#282828" transform="rotate(60 1569.05 1485.4)"/>
<text x="1584.25" y="1461.2" font-size="13.8" fill="#282828" color="#282828">3</text>
<text x="1584.25" y="1521" font-size="13.8" fill="#282828" color="#282828">4</text>
<line x1="1626.15" y1="1470" x2="1633.55" y2="1477.4" stroke="#282828" stroke-width="1.5"/>
<line x1="1626.15" y1="1477.4" x2="1633.55" y2="1470" stroke="#282828" stroke-width="1.5"/>
<line x1="1613.75" y1="1470.4" x2="1629.85" y2="1497.8" stroke="#282828" stroke-width="2"/>
<rect x="1612.5" y="1481.4" width="13.5" height="8" fill="#282828" transform="rotate(60 1619.25 1485.4)"/>
<text x="1634.45" y="1461.2" font-size="13.8" fill="#282828" color="#282828">5</text>
<text x="1634.45" y="1521" font-size="13.8" fill="#282828" color="#282828">6</text>
<line x1="1523.55" y1="1485.4" x2="1613.35" y2="1485.4" stroke="#282828" stroke-width="1.8" stroke-dasharray="6.3 6.2"/>
<text x="1491.25" y="1490.3" font-size="16.8" fill="#282828" color="#282828" text-anchor="end" textLength="33.3" lengthAdjust="spacingAndGlyphs">QF6</text>
<text x="1491.65" y="1508.6" font-size="13.8" fill="#282828" color="#282828" text-anchor="end" textLength="22.5" lengthAdjust="spacingAndGlyphs">50A</text>
<text x="1491.65" y="1526.9" font-size="13.8" fill="#282828" color="#282828" text-anchor="end" textLength="22.5" lengthAdjust="spacingAndGlyphs">6kA</text>
<text x="1491.65" y="1544.3" font-size="13.8" fill="#282828" color="#282828" text-anchor="end" textLength="54.2" lengthAdjust="spacingAndGlyphs">хар-ка С</text>
<line x1="1522.75" y1="1553.9" x2="1536.35" y2="1567.1" stroke="#a3202c" stroke-width="1.5"/>
<text x="1531.85" y="1557.1" font-size="10.5" fill="#c00000" color="#c00000" textLength="34.6" lengthAdjust="spacingAndGlyphs" style="stroke-width:0.55px">Черный</text>
<line x1="1572.85" y1="1553.9" x2="1586.45" y2="1567.1" stroke="#a3202c" stroke-width="1.5"/>
<text x="1581.95" y="1557.1" font-size="10.5" fill="#c00000" color="#c00000" textLength="34.6" lengthAdjust="spacingAndGlyphs" style="stroke-width:0.55px">Черный</text>
<line x1="1623.05" y1="1553.9" x2="1636.65" y2="1567.1" stroke="#a3202c" stroke-width="1.5"/>
<text x="1632.15" y="1557.1" font-size="10.5" fill="#c00000" color="#c00000" textLength="34.6" lengthAdjust="spacingAndGlyphs" style="stroke-width:0.55px">Черный</text>
<line x1="1673.05" y1="1553.9" x2="1686.65" y2="1567.1" stroke="#a3202c" stroke-width="1.5"/>
<text x="1683.45" y="1557.1" font-size="10.5" fill="#c00000" color="#c00000" textLength="27" lengthAdjust="spacingAndGlyphs" style="stroke-width:0.55px">Синий</text>
<line x1="1723.25" y1="1553.9" x2="1736.85" y2="1567.1" stroke="#a3202c" stroke-width="1.5"/>
<text x="1733.45" y="1557.1" font-size="10.5" fill="#c00000" color="#c00000" textLength="18" lengthAdjust="spacingAndGlyphs" style="stroke-width:0.55px">Ж-З</text>
<rect x="1466.85" y="1586.1" width="313.3" height="74.7" fill="none" stroke="#282828" stroke-width="2"/>
<circle cx="1529.55" cy="1636" r="5" fill="#fff" stroke="#282828" stroke-width="1.8"/>
<text x="1499.95" y="1643.6" font-size="18.7" fill="#282828" color="#282828" textLength="16.8" lengthAdjust="spacingAndGlyphs">L1</text>
<circle cx="1579.65" cy="1636" r="5" fill="#fff" stroke="#282828" stroke-width="1.8"/>
<text x="1549.45" y="1643.6" font-size="18.7" fill="#282828" color="#282828" textLength="17.3" lengthAdjust="spacingAndGlyphs">L2</text>
<circle cx="1629.85" cy="1636" r="5" fill="#fff" stroke="#282828" stroke-width="1.8"/>
<text x="1599.45" y="1643.6" font-size="18.7" fill="#282828" color="#282828" textLength="17.5" lengthAdjust="spacingAndGlyphs">L3</text>
<circle cx="1679.85" cy="1636" r="5" fill="#fff" stroke="#282828" stroke-width="1.8"/>
<text x="1656.85" y="1643.6" font-size="18.7" fill="#282828" color="#282828" textLength="12.1" lengthAdjust="spacingAndGlyphs">N</text>
<circle cx="1730.05" cy="1636" r="5" fill="#fff" stroke="#282828" stroke-width="1.8"/>
<text x="1695.95" y="1643.6" font-size="18.7" fill="#282828" color="#282828" textLength="22.1" lengthAdjust="spacingAndGlyphs">PE</text>
<text x="1619.25" y="1686.3" font-size="19" fill="#2a2a2a" color="#2a2a2a" text-anchor="middle" textLength="226.4" lengthAdjust="spacingAndGlyphs" font-style="italic" style="stroke-width:0.2px">Питание потребителя N°4</text>
<line x1="1930.7" y1="1310.3" x2="1930.7" y2="1473.7" stroke="#282828" stroke-width="2"/>
<line x1="1930.7" y1="1497.8" x2="1930.7" y2="1631" stroke="#282828" stroke-width="2"/>
<line x1="1980.8" y1="1359.9" x2="1980.8" y2="1473.7" stroke="#282828" stroke-width="2"/>
<line x1="1980.8" y1="1497.8" x2="1980.8" y2="1631" stroke="#282828" stroke-width="2"/>
<line x1="2031" y1="1410.4" x2="2031" y2="1473.7" stroke="#282828" stroke-width="2"/>
<line x1="2031" y1="1497.8" x2="2031" y2="1631" stroke="#282828" stroke-width="2"/>
<line x1="2081" y1="1209.7" x2="2081" y2="1631" stroke="#34349a" stroke-width="1.8"/>
<line x1="2131.2" y1="1260.2" x2="2131.2" y2="1631" stroke="#48d548" stroke-width="1.9"/>
<line x1="2074.2" y1="1278.7" x2="2087.8" y2="1291.9" stroke="#a3202c" stroke-width="1.5"/>
<text x="2084.3" y="1281.1" font-size="10.5" fill="#c00000" color="#c00000" textLength="27" lengthAdjust="spacingAndGlyphs" style="stroke-width:0.55px">Синий</text>
<line x1="2124.4" y1="1278.7" x2="2138" y2="1291.9" stroke="#a3202c" stroke-width="1.5"/>
<text x="2134.5" y="1281.1" font-size="10.5" fill="#c00000" color="#c00000" textLength="18" lengthAdjust="spacingAndGlyphs" style="stroke-width:0.55px">Ж-З</text>
<line x1="1923.9" y1="1428.6" x2="1937.5" y2="1441.8" stroke="#a3202c" stroke-width="1.5"/>
<text x="1935.3" y="1432.2" font-size="10.5" fill="#c00000" color="#c00000" textLength="34.6" lengthAdjust="spacingAndGlyphs" style="stroke-width:0.55px">Черный</text>
<line x1="1974" y1="1428.6" x2="1987.6" y2="1441.8" stroke="#a3202c" stroke-width="1.5"/>
<text x="1985.4" y="1432.2" font-size="10.5" fill="#c00000" color="#c00000" textLength="34.6" lengthAdjust="spacingAndGlyphs" style="stroke-width:0.55px">Черный</text>
<line x1="2024.2" y1="1428.6" x2="2037.8" y2="1441.8" stroke="#a3202c" stroke-width="1.5"/>
<text x="2035.6" y="1432.2" font-size="10.5" fill="#c00000" color="#c00000" textLength="34.6" lengthAdjust="spacingAndGlyphs" style="stroke-width:0.55px">Черный</text>
<line x1="1927" y1="1470" x2="1934.4" y2="1477.4" stroke="#282828" stroke-width="1.5"/>
<line x1="1927" y1="1477.4" x2="1934.4" y2="1470" stroke="#282828" stroke-width="1.5"/>
<line x1="1914.6" y1="1470.4" x2="1930.7" y2="1497.8" stroke="#282828" stroke-width="2"/>
<rect x="1913.35" y="1481.4" width="13.5" height="8" fill="#282828" transform="rotate(60 1920.1 1485.4)"/>
<text x="1935.3" y="1461.2" font-size="13.8" fill="#282828" color="#282828">1</text>
<text x="1935.3" y="1521" font-size="13.8" fill="#282828" color="#282828">2</text>
<line x1="1977.1" y1="1470" x2="1984.5" y2="1477.4" stroke="#282828" stroke-width="1.5"/>
<line x1="1977.1" y1="1477.4" x2="1984.5" y2="1470" stroke="#282828" stroke-width="1.5"/>
<line x1="1964.7" y1="1470.4" x2="1980.8" y2="1497.8" stroke="#282828" stroke-width="2"/>
<rect x="1963.45" y="1481.4" width="13.5" height="8" fill="#282828" transform="rotate(60 1970.2 1485.4)"/>
<text x="1985.4" y="1461.2" font-size="13.8" fill="#282828" color="#282828">3</text>
<text x="1985.4" y="1521" font-size="13.8" fill="#282828" color="#282828">4</text>
<line x1="2027.3" y1="1470" x2="2034.7" y2="1477.4" stroke="#282828" stroke-width="1.5"/>
<line x1="2027.3" y1="1477.4" x2="2034.7" y2="1470" stroke="#282828" stroke-width="1.5"/>
<line x1="2014.9" y1="1470.4" x2="2031" y2="1497.8" stroke="#282828" stroke-width="2"/>
<rect x="2013.65" y="1481.4" width="13.5" height="8" fill="#282828" transform="rotate(60 2020.4 1485.4)"/>
<text x="2035.6" y="1461.2" font-size="13.8" fill="#282828" color="#282828">5</text>
<text x="2035.6" y="1521" font-size="13.8" fill="#282828" color="#282828">6</text>
<line x1="1924.7" y1="1485.4" x2="2014.5" y2="1485.4" stroke="#282828" stroke-width="1.8" stroke-dasharray="6.3 6.2"/>
<text x="1892.4" y="1490.3" font-size="16.8" fill="#282828" color="#282828" text-anchor="end" textLength="33.3" lengthAdjust="spacingAndGlyphs">QF7</text>
<text x="1892.8" y="1508.6" font-size="13.8" fill="#282828" color="#282828" text-anchor="end" textLength="22.5" lengthAdjust="spacingAndGlyphs">50A</text>
<text x="1892.8" y="1526.9" font-size="13.8" fill="#282828" color="#282828" text-anchor="end" textLength="22.5" lengthAdjust="spacingAndGlyphs">6kA</text>
<text x="1892.8" y="1544.3" font-size="13.8" fill="#282828" color="#282828" text-anchor="end" textLength="54.2" lengthAdjust="spacingAndGlyphs">хар-ка С</text>
<line x1="1923.9" y1="1553.9" x2="1937.5" y2="1567.1" stroke="#a3202c" stroke-width="1.5"/>
<text x="1933" y="1557.1" font-size="10.5" fill="#c00000" color="#c00000" textLength="34.6" lengthAdjust="spacingAndGlyphs" style="stroke-width:0.55px">Черный</text>
<line x1="1974" y1="1553.9" x2="1987.6" y2="1567.1" stroke="#a3202c" stroke-width="1.5"/>
<text x="1983.1" y="1557.1" font-size="10.5" fill="#c00000" color="#c00000" textLength="34.6" lengthAdjust="spacingAndGlyphs" style="stroke-width:0.55px">Черный</text>
<line x1="2024.2" y1="1553.9" x2="2037.8" y2="1567.1" stroke="#a3202c" stroke-width="1.5"/>
<text x="2033.3" y="1557.1" font-size="10.5" fill="#c00000" color="#c00000" textLength="34.6" lengthAdjust="spacingAndGlyphs" style="stroke-width:0.55px">Черный</text>
<line x1="2074.2" y1="1553.9" x2="2087.8" y2="1567.1" stroke="#a3202c" stroke-width="1.5"/>
<text x="2084.6" y="1557.1" font-size="10.5" fill="#c00000" color="#c00000" textLength="27" lengthAdjust="spacingAndGlyphs" style="stroke-width:0.55px">Синий</text>
<line x1="2124.4" y1="1553.9" x2="2138" y2="1567.1" stroke="#a3202c" stroke-width="1.5"/>
<text x="2134.6" y="1557.1" font-size="10.5" fill="#c00000" color="#c00000" textLength="18" lengthAdjust="spacingAndGlyphs" style="stroke-width:0.55px">Ж-З</text>
<rect x="1868" y="1586.1" width="313.3" height="74.7" fill="none" stroke="#282828" stroke-width="2"/>
<circle cx="1930.7" cy="1636" r="5" fill="#fff" stroke="#282828" stroke-width="1.8"/>
<text x="1901.1" y="1643.6" font-size="18.7" fill="#282828" color="#282828" textLength="16.8" lengthAdjust="spacingAndGlyphs">L1</text>
<circle cx="1980.8" cy="1636" r="5" fill="#fff" stroke="#282828" stroke-width="1.8"/>
<text x="1950.6" y="1643.6" font-size="18.7" fill="#282828" color="#282828" textLength="17.3" lengthAdjust="spacingAndGlyphs">L2</text>
<circle cx="2031" cy="1636" r="5" fill="#fff" stroke="#282828" stroke-width="1.8"/>
<text x="2000.6" y="1643.6" font-size="18.7" fill="#282828" color="#282828" textLength="17.5" lengthAdjust="spacingAndGlyphs">L3</text>
<circle cx="2081" cy="1636" r="5" fill="#fff" stroke="#282828" stroke-width="1.8"/>
<text x="2058" y="1643.6" font-size="18.7" fill="#282828" color="#282828" textLength="12.1" lengthAdjust="spacingAndGlyphs">N</text>
<circle cx="2131.2" cy="1636" r="5" fill="#fff" stroke="#282828" stroke-width="1.8"/>
<text x="2097.1" y="1643.6" font-size="18.7" fill="#282828" color="#282828" textLength="22.1" lengthAdjust="spacingAndGlyphs">PE</text>
<text x="2020.4" y="1686.3" font-size="19" fill="#2a2a2a" color="#2a2a2a" text-anchor="middle" textLength="226.4" lengthAdjust="spacingAndGlyphs" font-style="italic" style="stroke-width:0.2px">Питание потребителя N°5</text>
</svg>
</body></html>
